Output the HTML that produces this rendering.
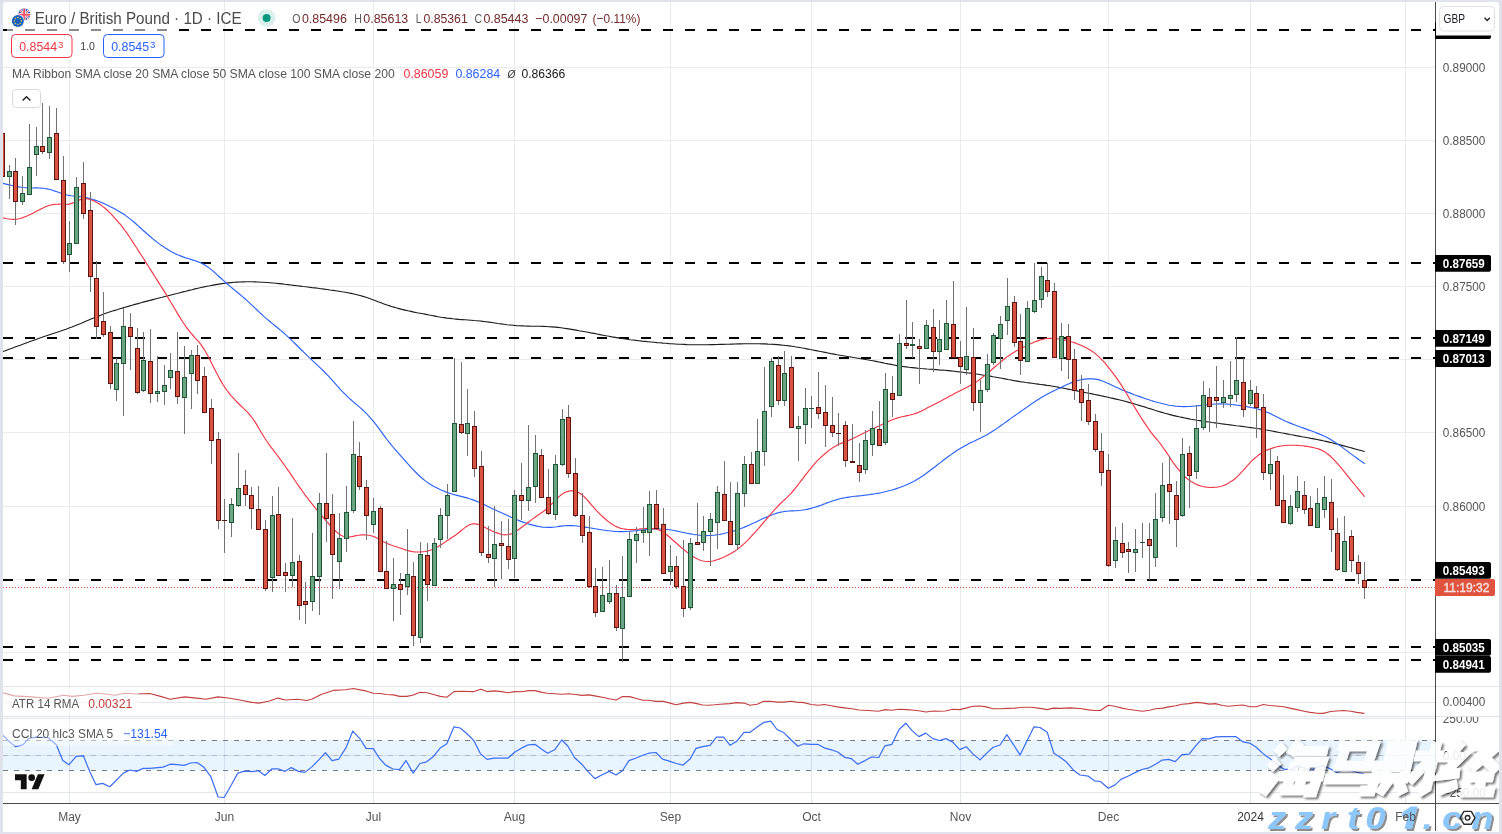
<!DOCTYPE html>
<html><head><meta charset="utf-8"><title>EURGBP</title>
<style>html,body{margin:0;padding:0;background:#e0e3eb;}body{width:1502px;height:834px;overflow:hidden;font-family:"Liberation Sans",sans-serif;}svg{display:block;position:absolute;left:0;top:0;will-change:transform;}text{font-family:"Liberation Sans",sans-serif;}</style>
</head><body>
<svg width="1502" height="834" viewBox="0 0 1502 834">
<defs>
<clipPath id="cpMain"><rect x="3" y="2" width="1432" height="684"/></clipPath>
<clipPath id="cpAll"><rect x="3" y="2" width="1432" height="801"/></clipPath>
<filter id="sh" x="-10%" y="-10%" width="130%" height="130%"><feGaussianBlur in="SourceAlpha" stdDeviation="0.9"/><feOffset dx="2.2" dy="2.2" result="o"/><feComponentTransfer><feFuncA type="linear" slope="0.62"/></feComponentTransfer><feMerge><feMergeNode/><feMergeNode in="SourceGraphic"/></feMerge></filter>
<filter id="sh2" x="-10%" y="-20%" width="130%" height="150%"><feGaussianBlur in="SourceAlpha" stdDeviation="0.7"/><feOffset dx="1.6" dy="1.8" result="o"/><feComponentTransfer><feFuncA type="linear" slope="0.45"/></feComponentTransfer><feMerge><feMergeNode/><feMergeNode in="SourceGraphic"/></feMerge></filter>
</defs>
<rect x="0" y="0" width="1502" height="834" fill="#e0e3eb"/>
<rect x="3" y="2" width="1496" height="830" rx="3" ry="3" fill="#ffffff"/>
<g shape-rendering="crispEdges">
<rect x="69" y="2" width="1" height="684" fill="#ebebec"/>
<rect x="69" y="687" width="1" height="116" fill="#e4e6ee"/>
<rect x="224" y="2" width="1" height="684" fill="#ebebec"/>
<rect x="224" y="687" width="1" height="116" fill="#e4e6ee"/>
<rect x="373" y="2" width="1" height="684" fill="#ebebec"/>
<rect x="373" y="687" width="1" height="116" fill="#e4e6ee"/>
<rect x="514" y="2" width="1" height="684" fill="#ebebec"/>
<rect x="514" y="687" width="1" height="116" fill="#e4e6ee"/>
<rect x="670" y="2" width="1" height="684" fill="#ebebec"/>
<rect x="670" y="687" width="1" height="116" fill="#e4e6ee"/>
<rect x="811" y="2" width="1" height="684" fill="#ebebec"/>
<rect x="811" y="687" width="1" height="116" fill="#e4e6ee"/>
<rect x="960" y="2" width="1" height="684" fill="#ebebec"/>
<rect x="960" y="687" width="1" height="116" fill="#e4e6ee"/>
<rect x="1108" y="2" width="1" height="684" fill="#ebebec"/>
<rect x="1108" y="687" width="1" height="116" fill="#e4e6ee"/>
<rect x="1250" y="2" width="1" height="684" fill="#ebebec"/>
<rect x="1250" y="687" width="1" height="116" fill="#e4e6ee"/>
<rect x="1405" y="2" width="1" height="684" fill="#ebebec"/>
<rect x="1405" y="687" width="1" height="116" fill="#e4e6ee"/>
<rect x="3" y="67" width="1432" height="1" fill="#ebebec"/>
<rect x="3" y="140" width="1432" height="1" fill="#ebebec"/>
<rect x="3" y="213" width="1432" height="1" fill="#ebebec"/>
<rect x="3" y="286" width="1432" height="1" fill="#ebebec"/>
<rect x="3" y="359" width="1432" height="1" fill="#ebebec"/>
<rect x="3" y="432" width="1432" height="1" fill="#ebebec"/>
<rect x="3" y="506" width="1432" height="1" fill="#ebebec"/>
<rect x="3" y="579" width="1432" height="1" fill="#ebebec"/>
<rect x="3" y="652" width="1432" height="1" fill="#ebebec"/>
<rect x="3" y="686" width="1496" height="1" fill="#e0e3eb"/>
<rect x="3" y="702" width="1432" height="1" fill="#e4e6ee"/>
<rect x="3" y="716" width="1496" height="1" fill="#e0e3eb"/>
<rect x="3" y="718" width="1432" height="1" fill="#e4e6ee"/>
<rect x="3" y="792" width="1432" height="1" fill="#e4e6ee"/>
</g>
<rect x="3" y="755" width="1432" height="1" fill="#e4e6ee" shape-rendering="crispEdges"/>
<rect x="3" y="740" width="1432" height="30.6" fill="#2196f3" fill-opacity="0.1"/>
<line x1="3" y1="740.5" x2="1435" y2="740.5" stroke="#787b86" stroke-width="1" stroke-dasharray="5 6" shape-rendering="crispEdges"/>
<line x1="3" y1="755.5" x2="1435" y2="755.5" stroke="#b4b8c4" stroke-width="1" stroke-dasharray="5 6" shape-rendering="crispEdges"/>
<line x1="3" y1="770.5" x2="1435" y2="770.5" stroke="#787b86" stroke-width="1" stroke-dasharray="5 6" shape-rendering="crispEdges"/>
<line x1="3" y1="30" x2="1435" y2="30" stroke="#000" stroke-width="2" stroke-dasharray="10 12" shape-rendering="crispEdges"/>
<line x1="3" y1="263" x2="1435" y2="263" stroke="#000" stroke-width="2" stroke-dasharray="10 12" shape-rendering="crispEdges"/>
<line x1="3" y1="338" x2="1435" y2="338" stroke="#000" stroke-width="2" stroke-dasharray="10 12" shape-rendering="crispEdges"/>
<line x1="3" y1="358" x2="1435" y2="358" stroke="#000" stroke-width="2" stroke-dasharray="10 12" shape-rendering="crispEdges"/>
<line x1="3" y1="580" x2="1435" y2="580" stroke="#000" stroke-width="2" stroke-dasharray="10 12" shape-rendering="crispEdges"/>
<line x1="3" y1="647" x2="1435" y2="647" stroke="#000" stroke-width="2" stroke-dasharray="10 12" shape-rendering="crispEdges"/>
<line x1="3" y1="660" x2="1435" y2="660" stroke="#000" stroke-width="2" stroke-dasharray="10 12" shape-rendering="crispEdges"/>
<polyline points="3.0,351.5 6.0,350.4 9.0,349.3 12.0,348.2 15.0,347.1 18.0,346.0 21.0,344.9 24.0,343.8 27.0,342.7 30.0,341.6 33.0,340.5 36.0,339.4 39.0,338.3 42.0,337.2 45.0,336.2 48.0,335.2 51.0,334.2 54.0,333.2 57.0,332.3 60.0,331.3 63.0,330.2 66.0,329.2 69.0,328.1 72.0,327.0 75.0,325.8 78.0,324.6 81.0,323.4 84.0,322.1 87.0,320.8 90.0,319.5 93.0,318.2 96.0,317.0 99.0,315.9 102.0,314.7 105.0,313.6 108.0,312.6 111.0,311.6 114.0,310.6 117.0,309.7 120.0,308.7 123.0,307.9 126.0,307.0 129.0,306.1 132.0,305.2 135.0,304.4 138.0,303.6 141.0,302.8 144.0,301.9 147.0,301.1 150.0,300.4 153.0,299.6 156.0,298.8 159.0,298.0 162.0,297.3 165.0,296.5 168.0,295.8 171.0,295.0 174.0,294.2 177.0,293.5 180.0,292.7 183.0,291.9 186.0,291.2 189.0,290.4 192.0,289.7 195.0,288.9 198.0,288.2 201.0,287.5 204.0,286.9 207.0,286.2 210.0,285.7 213.0,285.1 216.0,284.6 219.0,284.1 222.0,283.6 225.0,283.2 228.0,282.9 231.0,282.6 234.0,282.3 237.0,282.1 240.0,282.0 243.0,281.9 246.0,281.8 249.0,281.8 252.0,281.8 255.0,281.9 258.0,282.0 261.0,282.2 264.0,282.3 267.0,282.5 270.0,282.7 273.0,283.0 276.0,283.3 279.0,283.6 282.0,283.9 285.0,284.3 288.0,284.6 291.0,285.0 294.0,285.4 297.0,285.7 300.0,286.1 303.0,286.5 306.0,286.8 309.0,287.2 312.0,287.6 315.0,287.9 318.0,288.3 321.0,288.7 324.0,289.1 327.0,289.5 330.0,290.0 333.0,290.4 336.0,290.8 339.0,291.3 342.0,291.8 345.0,292.2 348.0,292.8 351.0,293.4 354.0,294.0 357.0,294.7 360.0,295.5 363.0,296.4 366.0,297.3 369.0,298.3 372.0,299.4 375.0,300.5 378.0,301.7 381.0,302.8 384.0,303.9 387.0,305.0 390.0,305.9 393.0,306.9 396.0,307.8 399.0,308.6 402.0,309.4 405.0,310.1 408.0,310.8 411.0,311.4 414.0,312.1 417.0,312.7 420.0,313.2 423.0,313.8 426.0,314.4 429.0,315.0 432.0,315.5 435.0,316.1 438.0,316.7 441.0,317.2 444.0,317.6 447.0,318.1 450.0,318.4 453.0,318.8 456.0,319.1 459.0,319.4 462.0,319.6 465.0,319.8 468.0,320.0 471.0,320.2 474.0,320.5 477.0,320.7 480.0,321.0 483.0,321.4 486.0,321.7 489.0,322.1 492.0,322.5 495.0,323.0 498.0,323.5 501.0,323.9 504.0,324.3 507.0,324.7 510.0,325.0 513.0,325.3 516.0,325.6 519.0,325.8 522.0,325.9 525.0,326.0 528.0,326.1 531.0,326.2 534.0,326.2 537.0,326.2 540.0,326.3 543.0,326.4 546.0,326.5 549.0,326.7 552.0,326.9 555.0,327.1 558.0,327.4 561.0,327.8 564.0,328.2 567.0,328.6 570.0,329.1 573.0,329.6 576.0,330.1 579.0,330.7 582.0,331.2 585.0,331.7 588.0,332.3 591.0,332.9 594.0,333.4 597.0,334.0 600.0,334.6 603.0,335.2 606.0,335.8 609.0,336.3 612.0,336.9 615.0,337.4 618.0,337.9 621.0,338.4 624.0,338.8 627.0,339.3 630.0,339.7 633.0,340.0 636.0,340.4 639.0,340.7 642.0,341.1 645.0,341.4 648.0,341.7 651.0,342.0 654.0,342.3 657.0,342.6 660.0,342.8 663.0,343.1 666.0,343.3 669.0,343.6 672.0,343.8 675.0,344.0 678.0,344.2 681.0,344.3 684.0,344.4 687.0,344.6 690.0,344.7 693.0,344.7 696.0,344.8 699.0,344.8 702.0,344.8 705.0,344.8 708.0,344.7 711.0,344.6 714.0,344.6 717.0,344.5 720.0,344.4 723.0,344.4 726.0,344.3 729.0,344.2 732.0,344.1 735.0,344.0 738.0,343.9 741.0,343.9 744.0,343.8 747.0,343.7 750.0,343.7 753.0,343.7 756.0,343.7 759.0,343.8 762.0,343.9 765.0,343.9 768.0,344.1 771.0,344.2 774.0,344.4 777.0,344.6 780.0,344.9 783.0,345.2 786.0,345.5 789.0,345.9 792.0,346.3 795.0,346.8 798.0,347.2 801.0,347.8 804.0,348.3 807.0,348.9 810.0,349.5 813.0,350.0 816.0,350.6 819.0,351.2 822.0,351.8 825.0,352.4 828.0,353.0 831.0,353.6 834.0,354.1 837.0,354.7 840.0,355.2 843.0,355.7 846.0,356.2 849.0,356.7 852.0,357.2 855.0,357.7 858.0,358.2 861.0,358.7 864.0,359.2 867.0,359.7 870.0,360.3 873.0,360.8 876.0,361.4 879.0,362.0 882.0,362.6 885.0,363.3 888.0,363.9 891.0,364.4 894.0,365.0 897.0,365.6 900.0,366.1 903.0,366.5 906.0,366.9 909.0,367.3 912.0,367.6 915.0,367.9 918.0,368.2 921.0,368.5 924.0,368.7 927.0,369.0 930.0,369.2 933.0,369.4 936.0,369.6 939.0,369.9 942.0,370.1 945.0,370.3 948.0,370.6 951.0,370.9 954.0,371.2 957.0,371.6 960.0,371.9 963.0,372.3 966.0,372.6 969.0,373.0 972.0,373.4 975.0,373.8 978.0,374.2 981.0,374.7 984.0,375.2 987.0,375.6 990.0,376.1 993.0,376.7 996.0,377.2 999.0,377.7 1002.0,378.3 1005.0,378.9 1008.0,379.5 1011.0,380.0 1014.0,380.6 1017.0,381.1 1020.0,381.6 1023.0,382.0 1026.0,382.5 1029.0,382.9 1032.0,383.3 1035.0,383.7 1038.0,384.1 1041.0,384.5 1044.0,384.9 1047.0,385.4 1050.0,385.8 1053.0,386.3 1056.0,386.8 1059.0,387.4 1062.0,387.9 1065.0,388.5 1068.0,389.1 1071.0,389.7 1074.0,390.3 1077.0,390.9 1080.0,391.5 1083.0,392.1 1086.0,392.7 1089.0,393.3 1092.0,393.9 1095.0,394.5 1098.0,395.1 1101.0,395.7 1104.0,396.4 1107.0,397.0 1110.0,397.7 1113.0,398.4 1116.0,399.1 1119.0,399.8 1122.0,400.5 1125.0,401.3 1128.0,402.1 1131.0,403.0 1134.0,403.8 1137.0,404.7 1140.0,405.6 1143.0,406.5 1146.0,407.4 1149.0,408.4 1152.0,409.3 1155.0,410.3 1158.0,411.2 1161.0,412.1 1164.0,413.0 1167.0,413.8 1170.0,414.6 1173.0,415.4 1176.0,416.1 1179.0,416.8 1182.0,417.4 1185.0,418.0 1188.0,418.6 1191.0,419.2 1194.0,419.7 1197.0,420.2 1200.0,420.6 1203.0,421.1 1206.0,421.6 1209.0,422.0 1212.0,422.5 1215.0,422.9 1218.0,423.3 1221.0,423.7 1224.0,424.1 1227.0,424.5 1230.0,424.9 1233.0,425.3 1236.0,425.7 1239.0,426.0 1242.0,426.4 1245.0,426.8 1248.0,427.2 1251.0,427.6 1254.0,428.0 1257.0,428.5 1260.0,428.9 1263.0,429.4 1266.0,430.0 1269.0,430.5 1272.0,431.0 1275.0,431.6 1278.0,432.2 1281.0,432.8 1284.0,433.3 1287.0,433.9 1290.0,434.5 1293.0,435.0 1296.0,435.6 1299.0,436.1 1302.0,436.7 1305.0,437.2 1308.0,437.8 1311.0,438.4 1314.0,438.9 1317.0,439.5 1320.0,440.1 1323.0,440.8 1326.0,441.4 1329.0,442.1 1332.0,442.8 1335.0,443.6 1338.0,444.3 1341.0,445.1 1344.0,445.9 1347.0,446.7 1350.0,447.5 1353.0,448.4 1356.0,449.2 1359.0,450.0 1362.0,450.8 1364.3,451.5" fill="none" stroke="#1c1c1c" stroke-width="1.1" stroke-linejoin="round" stroke-linecap="round" clip-path="url(#cpAll)" />
<polyline points="3.0,183.4 5.0,183.9 7.0,184.4 9.0,184.9 11.0,185.3 13.0,185.8 15.0,186.2 17.0,186.5 19.0,186.9 21.0,187.2 23.0,187.5 25.0,187.7 27.0,187.8 29.0,187.9 31.0,188.0 33.0,188.0 35.0,187.9 37.0,187.9 39.0,188.0 41.0,188.1 43.0,188.3 45.0,188.5 47.0,188.9 49.0,189.3 51.0,189.8 53.0,190.5 55.0,191.1 57.0,191.8 59.0,192.5 61.0,193.2 63.0,193.8 65.0,194.4 67.0,195.0 69.0,195.4 71.0,195.8 73.0,196.0 75.0,196.3 77.0,196.5 79.0,196.6 81.0,196.8 83.0,197.1 85.0,197.4 87.0,197.9 89.0,198.4 91.0,198.9 93.0,199.5 95.0,200.1 97.0,200.8 99.0,201.5 101.0,202.3 103.0,203.1 105.0,204.0 107.0,204.9 109.0,205.9 111.0,206.9 113.0,208.0 115.0,209.1 117.0,210.3 119.0,211.4 121.0,212.6 123.0,213.8 125.0,215.1 127.0,216.6 129.0,218.1 131.0,219.6 133.0,221.3 135.0,223.0 137.0,224.8 139.0,226.7 141.0,228.5 143.0,230.3 145.0,232.0 147.0,233.8 149.0,235.5 151.0,237.2 153.0,238.9 155.0,240.5 157.0,242.1 159.0,243.6 161.0,245.1 163.0,246.4 165.0,247.8 167.0,249.0 169.0,250.2 171.0,251.4 173.0,252.4 175.0,253.4 177.0,254.4 179.0,255.3 181.0,256.1 183.0,256.9 185.0,257.6 187.0,258.2 189.0,258.8 191.0,259.4 193.0,260.1 195.0,260.7 197.0,261.4 199.0,262.2 201.0,263.1 203.0,264.1 205.0,265.3 207.0,266.5 209.0,267.9 211.0,269.4 213.0,271.1 215.0,272.8 217.0,274.7 219.0,276.5 221.0,278.3 223.0,280.1 225.0,281.9 227.0,283.7 229.0,285.4 231.0,287.1 233.0,288.8 235.0,290.4 237.0,292.0 239.0,293.7 241.0,295.4 243.0,297.1 245.0,298.8 247.0,300.6 249.0,302.4 251.0,304.3 253.0,306.2 255.0,308.1 257.0,310.0 259.0,311.9 261.0,313.7 263.0,315.6 265.0,317.4 267.0,319.1 269.0,320.8 271.0,322.5 273.0,324.1 275.0,325.7 277.0,327.3 279.0,329.0 281.0,330.6 283.0,332.3 285.0,334.1 287.0,335.9 289.0,337.8 291.0,339.6 293.0,341.6 295.0,343.5 297.0,345.5 299.0,347.5 301.0,349.5 303.0,351.5 305.0,353.4 307.0,355.4 309.0,357.3 311.0,359.2 313.0,361.1 315.0,362.9 317.0,364.8 319.0,366.7 321.0,368.6 323.0,370.5 325.0,372.5 327.0,374.6 329.0,376.7 331.0,378.9 333.0,381.1 335.0,383.4 337.0,385.7 339.0,387.9 341.0,390.1 343.0,392.2 345.0,394.2 347.0,396.2 349.0,398.1 351.0,399.8 353.0,401.6 355.0,403.2 357.0,404.9 359.0,406.6 361.0,408.4 363.0,410.2 365.0,412.1 367.0,414.2 369.0,416.3 371.0,418.6 373.0,420.9 375.0,423.4 377.0,425.9 379.0,428.6 381.0,431.3 383.0,434.1 385.0,436.8 387.0,439.5 389.0,442.1 391.0,444.6 393.0,447.0 395.0,449.3 397.0,451.6 399.0,453.8 401.0,456.1 403.0,458.3 405.0,460.6 407.0,462.9 409.0,465.1 411.0,467.3 413.0,469.4 415.0,471.5 417.0,473.5 419.0,475.5 421.0,477.3 423.0,479.0 425.0,480.6 427.0,482.1 429.0,483.5 431.0,484.8 433.0,486.0 435.0,487.1 437.0,488.1 439.0,489.1 441.0,490.0 443.0,490.8 445.0,491.6 447.0,492.4 449.0,493.1 451.0,493.7 453.0,494.3 455.0,494.9 457.0,495.4 459.0,495.9 461.0,496.4 463.0,496.9 465.0,497.4 467.0,497.9 469.0,498.5 471.0,499.2 473.0,499.9 475.0,500.6 477.0,501.4 479.0,502.3 481.0,503.2 483.0,504.1 485.0,505.1 487.0,506.1 489.0,507.0 491.0,508.0 493.0,508.9 495.0,509.8 497.0,510.8 499.0,511.7 501.0,512.6 503.0,513.5 505.0,514.4 507.0,515.3 509.0,516.3 511.0,517.2 513.0,518.1 515.0,519.0 517.0,519.8 519.0,520.6 521.0,521.4 523.0,522.1 525.0,522.8 527.0,523.5 529.0,524.1 531.0,524.6 533.0,525.1 535.0,525.6 537.0,526.1 539.0,526.5 541.0,526.9 543.0,527.2 545.0,527.3 547.0,527.4 549.0,527.4 551.0,527.4 553.0,527.2 555.0,527.0 557.0,526.8 559.0,526.4 561.0,526.1 563.0,525.9 565.0,525.7 567.0,525.6 569.0,525.6 571.0,525.6 573.0,525.6 575.0,525.8 577.0,526.0 579.0,526.2 581.0,526.5 583.0,526.8 585.0,527.1 587.0,527.4 589.0,527.7 591.0,528.0 593.0,528.4 595.0,528.7 597.0,529.0 599.0,529.4 601.0,529.7 603.0,530.0 605.0,530.3 607.0,530.6 609.0,530.8 611.0,531.0 613.0,531.2 615.0,531.4 617.0,531.5 619.0,531.6 621.0,531.6 623.0,531.6 625.0,531.5 627.0,531.5 629.0,531.3 631.0,531.2 633.0,531.0 635.0,530.8 637.0,530.6 639.0,530.3 641.0,530.1 643.0,529.9 645.0,529.7 647.0,529.5 649.0,529.3 651.0,529.2 653.0,529.1 655.0,529.0 657.0,529.0 659.0,529.0 661.0,529.0 663.0,529.1 665.0,529.3 667.0,529.5 669.0,529.7 671.0,530.0 673.0,530.3 675.0,530.7 677.0,531.1 679.0,531.5 681.0,532.0 683.0,532.4 685.0,532.8 687.0,533.2 689.0,533.6 691.0,533.9 693.0,534.3 695.0,534.6 697.0,534.8 699.0,535.1 701.0,535.3 703.0,535.5 705.0,535.6 707.0,535.6 709.0,535.5 711.0,535.4 713.0,535.3 715.0,535.1 717.0,534.8 719.0,534.5 721.0,534.1 723.0,533.7 725.0,533.2 727.0,532.8 729.0,532.3 731.0,531.8 733.0,531.2 735.0,530.6 737.0,530.0 739.0,529.3 741.0,528.5 743.0,527.7 745.0,526.9 747.0,526.1 749.0,525.2 751.0,524.2 753.0,523.3 755.0,522.4 757.0,521.4 759.0,520.5 761.0,519.6 763.0,518.6 765.0,517.7 767.0,516.9 769.0,516.0 771.0,515.2 773.0,514.5 775.0,513.7 777.0,513.1 779.0,512.5 781.0,512.1 783.0,511.7 785.0,511.4 787.0,511.2 789.0,511.0 791.0,510.9 793.0,510.9 795.0,510.8 797.0,510.7 799.0,510.5 801.0,510.3 803.0,510.0 805.0,509.7 807.0,509.4 809.0,508.9 811.0,508.4 813.0,507.8 815.0,507.2 817.0,506.6 819.0,505.9 821.0,505.2 823.0,504.4 825.0,503.7 827.0,502.9 829.0,502.2 831.0,501.5 833.0,500.8 835.0,500.2 837.0,499.6 839.0,499.0 841.0,498.5 843.0,498.1 845.0,497.7 847.0,497.4 849.0,497.1 851.0,496.8 853.0,496.5 855.0,496.3 857.0,496.1 859.0,495.9 861.0,495.7 863.0,495.4 865.0,495.2 867.0,494.9 869.0,494.7 871.0,494.4 873.0,494.1 875.0,493.8 877.0,493.4 879.0,493.1 881.0,492.7 883.0,492.2 885.0,491.8 887.0,491.3 889.0,490.8 891.0,490.3 893.0,489.7 895.0,489.1 897.0,488.4 899.0,487.7 901.0,487.0 903.0,486.3 905.0,485.5 907.0,484.6 909.0,483.7 911.0,482.8 913.0,481.8 915.0,480.7 917.0,479.5 919.0,478.3 921.0,477.0 923.0,475.7 925.0,474.3 927.0,472.8 929.0,471.3 931.0,469.8 933.0,468.3 935.0,466.8 937.0,465.2 939.0,463.6 941.0,462.1 943.0,460.5 945.0,459.0 947.0,457.5 949.0,456.0 951.0,454.6 953.0,453.2 955.0,451.8 957.0,450.5 959.0,449.3 961.0,448.0 963.0,446.9 965.0,445.8 967.0,444.7 969.0,443.6 971.0,442.6 973.0,441.7 975.0,440.7 977.0,439.7 979.0,438.7 981.0,437.8 983.0,436.8 985.0,435.8 987.0,434.7 989.0,433.5 991.0,432.3 993.0,431.1 995.0,429.8 997.0,428.4 999.0,427.0 1001.0,425.5 1003.0,424.1 1005.0,422.6 1007.0,421.2 1009.0,419.8 1011.0,418.4 1013.0,416.9 1015.0,415.5 1017.0,414.1 1019.0,412.7 1021.0,411.3 1023.0,409.9 1025.0,408.5 1027.0,407.1 1029.0,405.7 1031.0,404.3 1033.0,402.9 1035.0,401.6 1037.0,400.3 1039.0,399.0 1041.0,397.7 1043.0,396.5 1045.0,395.4 1047.0,394.3 1049.0,393.2 1051.0,392.2 1053.0,391.2 1055.0,390.3 1057.0,389.3 1059.0,388.4 1061.0,387.4 1063.0,386.5 1065.0,385.5 1067.0,384.6 1069.0,383.7 1071.0,382.9 1073.0,382.1 1075.0,381.4 1077.0,380.8 1079.0,380.2 1081.0,379.8 1083.0,379.4 1085.0,379.1 1087.0,378.9 1089.0,378.9 1091.0,378.9 1093.0,378.9 1095.0,379.1 1097.0,379.4 1099.0,379.9 1101.0,380.5 1103.0,381.3 1105.0,382.0 1107.0,382.9 1109.0,383.8 1111.0,384.8 1113.0,385.8 1115.0,386.7 1117.0,387.6 1119.0,388.5 1121.0,389.4 1123.0,390.2 1125.0,391.0 1127.0,391.9 1129.0,392.6 1131.0,393.4 1133.0,394.2 1135.0,395.0 1137.0,395.7 1139.0,396.4 1141.0,397.1 1143.0,397.8 1145.0,398.5 1147.0,399.2 1149.0,399.8 1151.0,400.5 1153.0,401.1 1155.0,401.7 1157.0,402.2 1159.0,402.8 1161.0,403.3 1163.0,403.8 1165.0,404.3 1167.0,404.8 1169.0,405.2 1171.0,405.5 1173.0,405.8 1175.0,406.1 1177.0,406.3 1179.0,406.4 1181.0,406.5 1183.0,406.6 1185.0,406.6 1187.0,406.5 1189.0,406.5 1191.0,406.4 1193.0,406.2 1195.0,406.0 1197.0,405.8 1199.0,405.6 1201.0,405.4 1203.0,405.1 1205.0,404.9 1207.0,404.7 1209.0,404.5 1211.0,404.3 1213.0,404.2 1215.0,404.0 1217.0,404.0 1219.0,403.9 1221.0,403.9 1223.0,404.0 1225.0,404.0 1227.0,404.1 1229.0,404.3 1231.0,404.5 1233.0,404.7 1235.0,404.9 1237.0,405.2 1239.0,405.4 1241.0,405.7 1243.0,406.0 1245.0,406.3 1247.0,406.7 1249.0,407.1 1251.0,407.5 1253.0,407.9 1255.0,408.3 1257.0,408.8 1259.0,409.4 1261.0,410.0 1263.0,410.7 1265.0,411.4 1267.0,412.2 1269.0,413.1 1271.0,414.0 1273.0,415.0 1275.0,416.0 1277.0,417.0 1279.0,418.0 1281.0,419.0 1283.0,419.9 1285.0,420.9 1287.0,421.8 1289.0,422.6 1291.0,423.4 1293.0,424.2 1295.0,425.0 1297.0,425.8 1299.0,426.5 1301.0,427.2 1303.0,427.9 1305.0,428.6 1307.0,429.4 1309.0,430.1 1311.0,430.8 1313.0,431.5 1315.0,432.3 1317.0,433.1 1319.0,433.9 1321.0,434.7 1323.0,435.6 1325.0,436.5 1327.0,437.5 1329.0,438.6 1331.0,439.7 1333.0,441.0 1335.0,442.2 1337.0,443.6 1339.0,445.0 1341.0,446.4 1343.0,447.9 1345.0,449.4 1347.0,450.9 1349.0,452.4 1351.0,453.9 1353.0,455.4 1355.0,456.8 1357.0,458.2 1359.0,459.7 1361.0,461.1 1363.0,462.4 1364.3,463.5" fill="none" stroke="#2962ff" stroke-width="1.15" stroke-linejoin="round" stroke-linecap="round" clip-path="url(#cpAll)" />
<polyline points="3.0,217.9 5.0,218.3 7.0,218.7 9.0,219.0 11.0,219.3 13.0,219.4 15.0,219.4 17.0,219.2 19.0,218.8 21.0,218.3 23.0,217.6 25.0,216.8 27.0,216.0 29.0,215.1 31.0,214.2 33.0,213.2 35.0,212.1 37.0,211.0 39.0,209.9 41.0,208.9 43.0,207.9 45.0,207.0 47.0,206.2 49.0,205.5 51.0,205.0 53.0,204.6 55.0,204.3 57.0,204.2 59.0,204.1 61.0,204.2 63.0,204.4 65.0,204.5 67.0,204.4 69.0,204.1 71.0,203.6 73.0,202.9 75.0,201.9 77.0,201.0 79.0,200.1 81.0,199.4 83.0,198.9 85.0,198.7 87.0,198.7 89.0,199.2 91.0,199.8 93.0,200.5 95.0,201.5 97.0,202.6 99.0,203.8 101.0,205.1 103.0,206.6 105.0,208.2 107.0,210.0 109.0,211.9 111.0,213.9 113.0,216.1 115.0,218.3 117.0,220.5 119.0,222.8 121.0,225.2 123.0,227.8 125.0,230.5 127.0,233.3 129.0,236.2 131.0,239.3 133.0,242.4 135.0,245.5 137.0,248.5 139.0,251.6 141.0,254.7 143.0,257.8 145.0,260.9 147.0,264.1 149.0,267.2 151.0,270.4 153.0,273.6 155.0,276.7 157.0,279.9 159.0,283.1 161.0,286.2 163.0,289.4 165.0,292.6 167.0,295.9 169.0,299.2 171.0,302.5 173.0,305.8 175.0,309.2 177.0,312.6 179.0,315.9 181.0,319.1 183.0,322.2 185.0,325.2 187.0,328.1 189.0,330.7 191.0,333.2 193.0,335.5 195.0,337.8 197.0,339.9 199.0,342.2 201.0,344.7 203.0,347.6 205.0,350.8 207.0,354.2 209.0,357.9 211.0,361.9 213.0,365.9 215.0,369.9 217.0,373.7 219.0,377.6 221.0,381.1 223.0,384.5 225.0,387.6 227.0,390.5 229.0,393.1 231.0,395.6 233.0,397.7 235.0,399.9 237.0,402.0 239.0,404.0 241.0,406.0 243.0,407.9 245.0,409.8 247.0,411.7 249.0,413.9 251.0,416.3 253.0,419.0 255.0,421.9 257.0,425.1 259.0,428.5 261.0,432.0 263.0,435.3 265.0,438.5 267.0,441.5 269.0,444.3 271.0,447.1 273.0,449.7 275.0,452.3 277.0,455.0 279.0,457.7 281.0,460.4 283.0,463.2 285.0,466.0 287.0,468.9 289.0,471.7 291.0,474.6 293.0,477.6 295.0,480.5 297.0,483.5 299.0,486.4 301.0,489.2 303.0,492.0 305.0,494.8 307.0,497.4 309.0,500.1 311.0,502.6 313.0,505.2 315.0,507.7 317.0,510.1 319.0,512.5 321.0,514.9 323.0,517.2 325.0,519.5 327.0,521.8 329.0,524.0 331.0,526.3 333.0,528.5 335.0,530.5 337.0,532.4 339.0,534.0 341.0,535.3 343.0,536.3 345.0,536.8 347.0,537.0 349.0,537.0 351.0,536.7 353.0,536.4 355.0,535.9 357.0,535.5 359.0,535.2 361.0,534.9 363.0,534.8 365.0,534.9 367.0,535.0 369.0,535.2 371.0,535.7 373.0,536.3 375.0,537.1 377.0,538.1 379.0,539.1 381.0,540.3 383.0,541.4 385.0,542.4 387.0,543.4 389.0,544.2 391.0,545.0 393.0,545.7 395.0,546.3 397.0,547.0 399.0,547.7 401.0,548.3 403.0,549.0 405.0,549.7 407.0,550.4 409.0,550.9 411.0,551.4 413.0,551.7 415.0,551.9 417.0,552.0 419.0,552.0 421.0,551.9 423.0,551.7 425.0,551.5 427.0,551.1 429.0,550.6 431.0,550.0 433.0,549.3 435.0,548.4 437.0,547.3 439.0,546.1 441.0,544.8 443.0,543.5 445.0,542.1 447.0,540.7 449.0,539.4 451.0,538.1 453.0,536.8 455.0,535.5 457.0,534.0 459.0,532.5 461.0,530.8 463.0,529.1 465.0,527.6 467.0,526.2 469.0,525.0 471.0,524.3 473.0,523.8 475.0,523.8 477.0,524.1 479.0,524.6 481.0,525.4 483.0,526.4 485.0,527.4 487.0,528.5 489.0,529.5 491.0,530.5 493.0,531.4 495.0,532.2 497.0,532.9 499.0,533.6 501.0,534.2 503.0,534.7 505.0,534.9 507.0,534.8 509.0,534.5 511.0,533.9 513.0,533.0 515.0,531.9 517.0,530.6 519.0,529.2 521.0,527.8 523.0,526.3 525.0,524.8 527.0,523.2 529.0,521.7 531.0,520.1 533.0,518.6 535.0,517.2 537.0,515.8 539.0,514.4 541.0,513.1 543.0,511.7 545.0,510.2 547.0,508.5 549.0,506.6 551.0,504.6 553.0,502.6 555.0,500.5 557.0,498.5 559.0,496.6 561.0,495.0 563.0,493.6 565.0,492.5 567.0,491.6 569.0,491.1 571.0,490.8 573.0,490.9 575.0,491.1 577.0,491.7 579.0,492.7 581.0,494.0 583.0,495.6 585.0,497.5 587.0,499.7 589.0,502.0 591.0,504.4 593.0,506.7 595.0,508.9 597.0,511.1 599.0,513.2 601.0,515.1 603.0,517.0 605.0,518.8 607.0,520.5 609.0,522.1 611.0,523.5 613.0,524.8 615.0,525.9 617.0,526.9 619.0,527.7 621.0,528.4 623.0,528.8 625.0,529.1 627.0,529.4 629.0,529.5 631.0,529.6 633.0,529.5 635.0,529.4 637.0,529.2 639.0,529.1 641.0,528.9 643.0,528.7 645.0,528.5 647.0,528.4 649.0,528.3 651.0,528.4 653.0,528.6 655.0,528.9 657.0,529.3 659.0,530.0 661.0,531.0 663.0,532.2 665.0,533.5 667.0,535.0 669.0,536.7 671.0,538.5 673.0,540.3 675.0,542.0 677.0,543.8 679.0,545.5 681.0,547.2 683.0,548.9 685.0,550.5 687.0,552.1 689.0,553.7 691.0,555.2 693.0,556.5 695.0,557.7 697.0,558.8 699.0,559.7 701.0,560.5 703.0,561.0 705.0,561.3 707.0,561.5 709.0,561.5 711.0,561.3 713.0,561.0 715.0,560.4 717.0,559.8 719.0,559.1 721.0,558.3 723.0,557.5 725.0,556.6 727.0,555.6 729.0,554.5 731.0,553.4 733.0,552.2 735.0,551.0 737.0,549.6 739.0,548.0 741.0,546.4 743.0,544.7 745.0,542.8 747.0,540.9 749.0,538.8 751.0,536.7 753.0,534.5 755.0,532.3 757.0,530.1 759.0,527.8 761.0,525.5 763.0,523.1 765.0,520.8 767.0,518.5 769.0,516.1 771.0,513.8 773.0,511.4 775.0,509.2 777.0,507.1 779.0,505.0 781.0,503.0 783.0,501.1 785.0,499.3 787.0,497.4 789.0,495.4 791.0,493.3 793.0,491.0 795.0,488.6 797.0,486.1 799.0,483.5 801.0,480.9 803.0,478.3 805.0,475.7 807.0,473.2 809.0,470.6 811.0,468.1 813.0,465.7 815.0,463.4 817.0,461.2 819.0,459.2 821.0,457.2 823.0,455.4 825.0,453.7 827.0,452.0 829.0,450.4 831.0,449.0 833.0,447.6 835.0,446.4 837.0,445.3 839.0,444.2 841.0,443.4 843.0,442.6 845.0,441.8 847.0,441.0 849.0,440.2 851.0,439.4 853.0,438.5 855.0,437.5 857.0,436.6 859.0,435.5 861.0,434.5 863.0,433.5 865.0,432.5 867.0,431.5 869.0,430.6 871.0,429.7 873.0,428.8 875.0,427.8 877.0,426.8 879.0,425.9 881.0,424.9 883.0,423.9 885.0,423.0 887.0,422.1 889.0,421.2 891.0,420.3 893.0,419.5 895.0,418.8 897.0,418.1 899.0,417.5 901.0,417.0 903.0,416.5 905.0,416.1 907.0,415.6 909.0,415.2 911.0,414.7 913.0,414.2 915.0,413.6 917.0,412.9 919.0,412.1 921.0,411.2 923.0,410.2 925.0,409.2 927.0,408.1 929.0,407.0 931.0,406.0 933.0,404.9 935.0,403.9 937.0,402.9 939.0,401.9 941.0,400.9 943.0,399.8 945.0,398.8 947.0,397.7 949.0,396.6 951.0,395.5 953.0,394.4 955.0,393.3 957.0,392.2 959.0,391.2 961.0,390.2 963.0,389.2 965.0,388.2 967.0,387.3 969.0,386.2 971.0,385.1 973.0,384.0 975.0,382.7 977.0,381.4 979.0,380.0 981.0,378.5 983.0,376.9 985.0,375.3 987.0,373.7 989.0,372.0 991.0,370.3 993.0,368.5 995.0,366.8 997.0,365.1 999.0,363.4 1001.0,361.7 1003.0,360.0 1005.0,358.5 1007.0,356.9 1009.0,355.5 1011.0,354.1 1013.0,352.9 1015.0,351.7 1017.0,350.6 1019.0,349.5 1021.0,348.5 1023.0,347.4 1025.0,346.5 1027.0,345.5 1029.0,344.5 1031.0,343.6 1033.0,342.7 1035.0,341.8 1037.0,341.1 1039.0,340.4 1041.0,339.7 1043.0,339.2 1045.0,338.7 1047.0,338.5 1049.0,338.3 1051.0,338.3 1053.0,338.3 1055.0,338.5 1057.0,338.7 1059.0,339.0 1061.0,339.3 1063.0,339.7 1065.0,340.1 1067.0,340.6 1069.0,341.1 1071.0,341.7 1073.0,342.3 1075.0,342.9 1077.0,343.7 1079.0,344.4 1081.0,345.3 1083.0,346.2 1085.0,347.2 1087.0,348.3 1089.0,349.4 1091.0,350.6 1093.0,351.9 1095.0,353.4 1097.0,355.1 1099.0,356.9 1101.0,358.8 1103.0,360.9 1105.0,363.2 1107.0,365.6 1109.0,368.1 1111.0,370.6 1113.0,373.2 1115.0,375.9 1117.0,378.7 1119.0,381.6 1121.0,384.6 1123.0,387.7 1125.0,391.0 1127.0,394.3 1129.0,397.7 1131.0,401.2 1133.0,404.5 1135.0,407.8 1137.0,411.1 1139.0,414.3 1141.0,417.5 1143.0,420.6 1145.0,423.6 1147.0,426.5 1149.0,429.4 1151.0,432.3 1153.0,434.9 1155.0,437.3 1157.0,439.5 1159.0,442.0 1161.0,444.6 1163.0,447.5 1165.0,450.3 1167.0,453.2 1169.0,456.2 1171.0,459.4 1173.0,462.4 1175.0,465.2 1177.0,467.7 1179.0,470.1 1181.0,472.4 1183.0,474.7 1185.0,476.7 1187.0,478.5 1189.0,480.1 1191.0,481.4 1193.0,482.6 1195.0,483.7 1197.0,484.6 1199.0,485.4 1201.0,486.0 1203.0,486.5 1205.0,486.9 1207.0,487.2 1209.0,487.4 1211.0,487.5 1213.0,487.4 1215.0,487.3 1217.0,487.1 1219.0,486.8 1221.0,486.3 1223.0,485.7 1225.0,484.9 1227.0,483.9 1229.0,482.8 1231.0,481.6 1233.0,480.3 1235.0,478.7 1237.0,476.9 1239.0,474.9 1241.0,472.7 1243.0,470.6 1245.0,468.4 1247.0,466.1 1249.0,463.8 1251.0,461.7 1253.0,459.8 1255.0,458.0 1257.0,456.4 1259.0,454.8 1261.0,453.3 1263.0,452.1 1265.0,451.0 1267.0,450.1 1269.0,449.3 1271.0,448.6 1273.0,447.9 1275.0,447.3 1277.0,446.8 1279.0,446.4 1281.0,446.0 1283.0,445.7 1285.0,445.5 1287.0,445.3 1289.0,445.2 1291.0,445.2 1293.0,445.2 1295.0,445.3 1297.0,445.4 1299.0,445.5 1301.0,445.7 1303.0,445.8 1305.0,446.1 1307.0,446.4 1309.0,446.7 1311.0,447.1 1313.0,447.5 1315.0,448.0 1317.0,448.5 1319.0,449.1 1321.0,449.9 1323.0,450.9 1325.0,452.1 1327.0,453.5 1329.0,455.0 1331.0,456.8 1333.0,458.8 1335.0,460.9 1337.0,463.1 1339.0,465.3 1341.0,467.7 1343.0,470.1 1345.0,472.6 1347.0,475.1 1349.0,477.6 1351.0,480.1 1353.0,482.6 1355.0,485.0 1357.0,487.5 1359.0,489.8 1361.0,492.3 1363.0,494.6 1364.3,496.5" fill="none" stroke="#f23645" stroke-width="1.15" stroke-linejoin="round" stroke-linecap="round" clip-path="url(#cpAll)" />
<line x1="3" y1="587.5" x2="1435" y2="587.5" stroke="#e0533f" stroke-width="1" stroke-dasharray="1 2"/>
<g clip-path="url(#cpMain)" shape-rendering="crispEdges">
<rect x="2" y="125" width="1" height="57" fill="#727275"/>
<rect x="0" y="133" width="5" height="44" fill="#5c1410"/>
<rect x="1" y="134" width="3" height="42" fill="#d95342"/>
<rect x="9" y="165" width="1" height="34" fill="#727275"/>
<rect x="7" y="171" width="5" height="6" fill="#1f5636"/>
<rect x="8" y="172" width="3" height="4" fill="#6aa684"/>
<rect x="15" y="158" width="1" height="67" fill="#727275"/>
<rect x="13" y="171" width="5" height="31" fill="#5c1410"/>
<rect x="14" y="172" width="3" height="29" fill="#d95342"/>
<rect x="22" y="176" width="1" height="29" fill="#727275"/>
<rect x="20" y="193" width="5" height="9" fill="#1f5636"/>
<rect x="21" y="194" width="3" height="7" fill="#6aa684"/>
<rect x="29" y="124" width="1" height="71" fill="#727275"/>
<rect x="27" y="167" width="5" height="28" fill="#1f5636"/>
<rect x="28" y="168" width="3" height="26" fill="#6aa684"/>
<rect x="36" y="127" width="1" height="49" fill="#727275"/>
<rect x="34" y="146" width="5" height="9" fill="#1f5636"/>
<rect x="35" y="147" width="3" height="7" fill="#6aa684"/>
<rect x="42" y="103" width="1" height="51" fill="#727275"/>
<rect x="40" y="146" width="5" height="6" fill="#5c1410"/>
<rect x="41" y="147" width="3" height="4" fill="#d95342"/>
<rect x="49" y="106" width="1" height="53" fill="#727275"/>
<rect x="47" y="137" width="5" height="16" fill="#1f5636"/>
<rect x="48" y="138" width="3" height="14" fill="#6aa684"/>
<rect x="56" y="108" width="1" height="72" fill="#727275"/>
<rect x="54" y="133" width="5" height="47" fill="#5c1410"/>
<rect x="55" y="134" width="3" height="45" fill="#d95342"/>
<rect x="63" y="156" width="1" height="108" fill="#727275"/>
<rect x="61" y="180" width="5" height="82" fill="#5c1410"/>
<rect x="62" y="181" width="3" height="80" fill="#d95342"/>
<rect x="69" y="221" width="1" height="51" fill="#727275"/>
<rect x="67" y="243" width="5" height="12" fill="#1f5636"/>
<rect x="68" y="244" width="3" height="10" fill="#6aa684"/>
<rect x="76" y="177" width="1" height="67" fill="#727275"/>
<rect x="74" y="187" width="5" height="57" fill="#1f5636"/>
<rect x="75" y="188" width="3" height="55" fill="#6aa684"/>
<rect x="83" y="162" width="1" height="57" fill="#727275"/>
<rect x="81" y="183" width="5" height="31" fill="#5c1410"/>
<rect x="82" y="184" width="3" height="29" fill="#d95342"/>
<rect x="90" y="192" width="1" height="100" fill="#727275"/>
<rect x="88" y="210" width="5" height="67" fill="#5c1410"/>
<rect x="89" y="211" width="3" height="65" fill="#d95342"/>
<rect x="96" y="261" width="1" height="78" fill="#727275"/>
<rect x="94" y="278" width="5" height="49" fill="#5c1410"/>
<rect x="95" y="279" width="3" height="47" fill="#d95342"/>
<rect x="103" y="292" width="1" height="45" fill="#727275"/>
<rect x="101" y="321" width="5" height="14" fill="#5c1410"/>
<rect x="102" y="322" width="3" height="12" fill="#d95342"/>
<rect x="110" y="326" width="1" height="63" fill="#727275"/>
<rect x="108" y="332" width="5" height="52" fill="#5c1410"/>
<rect x="109" y="333" width="3" height="50" fill="#d95342"/>
<rect x="116" y="358" width="1" height="43" fill="#727275"/>
<rect x="114" y="363" width="5" height="27" fill="#1f5636"/>
<rect x="115" y="364" width="3" height="25" fill="#6aa684"/>
<rect x="123" y="308" width="1" height="108" fill="#727275"/>
<rect x="121" y="326" width="5" height="38" fill="#1f5636"/>
<rect x="122" y="327" width="3" height="36" fill="#6aa684"/>
<rect x="130" y="313" width="1" height="57" fill="#727275"/>
<rect x="128" y="327" width="5" height="10" fill="#5c1410"/>
<rect x="129" y="328" width="3" height="8" fill="#d95342"/>
<rect x="137" y="328" width="1" height="66" fill="#727275"/>
<rect x="135" y="348" width="5" height="45" fill="#5c1410"/>
<rect x="136" y="349" width="3" height="43" fill="#d95342"/>
<rect x="143" y="332" width="1" height="60" fill="#727275"/>
<rect x="141" y="360" width="5" height="31" fill="#1f5636"/>
<rect x="142" y="361" width="3" height="29" fill="#6aa684"/>
<rect x="150" y="329" width="1" height="74" fill="#727275"/>
<rect x="148" y="361" width="5" height="33" fill="#5c1410"/>
<rect x="149" y="362" width="3" height="31" fill="#d95342"/>
<rect x="157" y="356" width="1" height="46" fill="#727275"/>
<rect x="155" y="391" width="5" height="3" fill="#1f5636"/>
<rect x="156" y="392" width="3" height="1" fill="#6aa684"/>
<rect x="164" y="365" width="1" height="40" fill="#727275"/>
<rect x="162" y="385" width="5" height="7" fill="#1f5636"/>
<rect x="163" y="386" width="3" height="5" fill="#6aa684"/>
<rect x="170" y="353" width="1" height="36" fill="#727275"/>
<rect x="168" y="370" width="5" height="8" fill="#1f5636"/>
<rect x="169" y="371" width="3" height="6" fill="#6aa684"/>
<rect x="177" y="332" width="1" height="72" fill="#727275"/>
<rect x="175" y="371" width="5" height="26" fill="#5c1410"/>
<rect x="176" y="372" width="3" height="24" fill="#d95342"/>
<rect x="184" y="346" width="1" height="88" fill="#727275"/>
<rect x="182" y="377" width="5" height="21" fill="#1f5636"/>
<rect x="183" y="378" width="3" height="19" fill="#6aa684"/>
<rect x="191" y="350" width="1" height="59" fill="#727275"/>
<rect x="189" y="355" width="5" height="19" fill="#1f5636"/>
<rect x="190" y="356" width="3" height="17" fill="#6aa684"/>
<rect x="197" y="345" width="1" height="49" fill="#727275"/>
<rect x="195" y="355" width="5" height="26" fill="#5c1410"/>
<rect x="196" y="356" width="3" height="24" fill="#d95342"/>
<rect x="204" y="367" width="1" height="46" fill="#727275"/>
<rect x="202" y="376" width="5" height="37" fill="#5c1410"/>
<rect x="203" y="377" width="3" height="35" fill="#d95342"/>
<rect x="211" y="399" width="1" height="65" fill="#727275"/>
<rect x="209" y="408" width="5" height="33" fill="#5c1410"/>
<rect x="210" y="409" width="3" height="31" fill="#d95342"/>
<rect x="218" y="432" width="1" height="97" fill="#727275"/>
<rect x="216" y="439" width="5" height="82" fill="#5c1410"/>
<rect x="217" y="440" width="3" height="80" fill="#d95342"/>
<rect x="224" y="499" width="1" height="54" fill="#727275"/>
<rect x="222" y="520" width="5" height="1" fill="#5c1410"/>
<rect x="231" y="498" width="1" height="39" fill="#727275"/>
<rect x="229" y="504" width="5" height="19" fill="#1f5636"/>
<rect x="230" y="505" width="3" height="17" fill="#6aa684"/>
<rect x="238" y="453" width="1" height="54" fill="#727275"/>
<rect x="236" y="488" width="5" height="18" fill="#1f5636"/>
<rect x="237" y="489" width="3" height="16" fill="#6aa684"/>
<rect x="245" y="470" width="1" height="36" fill="#727275"/>
<rect x="243" y="485" width="5" height="10" fill="#5c1410"/>
<rect x="244" y="486" width="3" height="8" fill="#d95342"/>
<rect x="251" y="487" width="1" height="42" fill="#727275"/>
<rect x="249" y="495" width="5" height="14" fill="#5c1410"/>
<rect x="250" y="496" width="3" height="12" fill="#d95342"/>
<rect x="258" y="486" width="1" height="44" fill="#727275"/>
<rect x="256" y="509" width="5" height="21" fill="#5c1410"/>
<rect x="257" y="510" width="3" height="19" fill="#d95342"/>
<rect x="265" y="520" width="1" height="71" fill="#727275"/>
<rect x="263" y="529" width="5" height="60" fill="#5c1410"/>
<rect x="264" y="530" width="3" height="58" fill="#d95342"/>
<rect x="272" y="496" width="1" height="96" fill="#727275"/>
<rect x="270" y="515" width="5" height="63" fill="#1f5636"/>
<rect x="271" y="516" width="3" height="61" fill="#6aa684"/>
<rect x="278" y="487" width="1" height="89" fill="#727275"/>
<rect x="276" y="514" width="5" height="62" fill="#5c1410"/>
<rect x="277" y="515" width="3" height="60" fill="#d95342"/>
<rect x="285" y="563" width="1" height="29" fill="#727275"/>
<rect x="283" y="572" width="5" height="4" fill="#5c1410"/>
<rect x="284" y="573" width="3" height="2" fill="#d95342"/>
<rect x="292" y="518" width="1" height="69" fill="#727275"/>
<rect x="290" y="562" width="5" height="14" fill="#1f5636"/>
<rect x="291" y="563" width="3" height="12" fill="#6aa684"/>
<rect x="299" y="555" width="1" height="65" fill="#727275"/>
<rect x="297" y="561" width="5" height="45" fill="#5c1410"/>
<rect x="298" y="562" width="3" height="43" fill="#d95342"/>
<rect x="305" y="582" width="1" height="42" fill="#727275"/>
<rect x="303" y="601" width="5" height="4" fill="#5c1410"/>
<rect x="304" y="602" width="3" height="2" fill="#d95342"/>
<rect x="312" y="533" width="1" height="78" fill="#727275"/>
<rect x="310" y="576" width="5" height="26" fill="#1f5636"/>
<rect x="311" y="577" width="3" height="24" fill="#6aa684"/>
<rect x="319" y="493" width="1" height="122" fill="#727275"/>
<rect x="317" y="503" width="5" height="74" fill="#1f5636"/>
<rect x="318" y="504" width="3" height="72" fill="#6aa684"/>
<rect x="326" y="453" width="1" height="89" fill="#727275"/>
<rect x="324" y="503" width="5" height="16" fill="#5c1410"/>
<rect x="325" y="504" width="3" height="14" fill="#d95342"/>
<rect x="332" y="494" width="1" height="105" fill="#727275"/>
<rect x="330" y="514" width="5" height="41" fill="#5c1410"/>
<rect x="331" y="515" width="3" height="39" fill="#d95342"/>
<rect x="339" y="513" width="1" height="76" fill="#727275"/>
<rect x="337" y="538" width="5" height="24" fill="#1f5636"/>
<rect x="338" y="539" width="3" height="22" fill="#6aa684"/>
<rect x="346" y="486" width="1" height="66" fill="#727275"/>
<rect x="344" y="512" width="5" height="27" fill="#1f5636"/>
<rect x="345" y="513" width="3" height="25" fill="#6aa684"/>
<rect x="353" y="421" width="1" height="92" fill="#727275"/>
<rect x="351" y="454" width="5" height="57" fill="#1f5636"/>
<rect x="352" y="455" width="3" height="55" fill="#6aa684"/>
<rect x="359" y="442" width="1" height="48" fill="#727275"/>
<rect x="357" y="456" width="5" height="31" fill="#5c1410"/>
<rect x="358" y="457" width="3" height="29" fill="#d95342"/>
<rect x="366" y="480" width="1" height="60" fill="#727275"/>
<rect x="364" y="487" width="5" height="29" fill="#5c1410"/>
<rect x="365" y="488" width="3" height="27" fill="#d95342"/>
<rect x="373" y="498" width="1" height="35" fill="#727275"/>
<rect x="371" y="511" width="5" height="14" fill="#1f5636"/>
<rect x="372" y="512" width="3" height="12" fill="#6aa684"/>
<rect x="380" y="506" width="1" height="66" fill="#727275"/>
<rect x="378" y="508" width="5" height="64" fill="#5c1410"/>
<rect x="379" y="509" width="3" height="62" fill="#d95342"/>
<rect x="386" y="541" width="1" height="48" fill="#727275"/>
<rect x="384" y="571" width="5" height="18" fill="#5c1410"/>
<rect x="385" y="572" width="3" height="16" fill="#d95342"/>
<rect x="393" y="558" width="1" height="63" fill="#727275"/>
<rect x="391" y="584" width="5" height="5" fill="#1f5636"/>
<rect x="392" y="585" width="3" height="3" fill="#6aa684"/>
<rect x="400" y="573" width="1" height="42" fill="#727275"/>
<rect x="398" y="584" width="5" height="6" fill="#5c1410"/>
<rect x="399" y="585" width="3" height="4" fill="#d95342"/>
<rect x="407" y="529" width="1" height="66" fill="#727275"/>
<rect x="405" y="574" width="5" height="13" fill="#1f5636"/>
<rect x="406" y="575" width="3" height="11" fill="#6aa684"/>
<rect x="413" y="562" width="1" height="84" fill="#727275"/>
<rect x="411" y="576" width="5" height="60" fill="#5c1410"/>
<rect x="412" y="577" width="3" height="58" fill="#d95342"/>
<rect x="420" y="542" width="1" height="101" fill="#727275"/>
<rect x="418" y="554" width="5" height="84" fill="#1f5636"/>
<rect x="419" y="555" width="3" height="82" fill="#6aa684"/>
<rect x="427" y="543" width="1" height="58" fill="#727275"/>
<rect x="425" y="555" width="5" height="30" fill="#5c1410"/>
<rect x="426" y="556" width="3" height="28" fill="#d95342"/>
<rect x="434" y="538" width="1" height="48" fill="#727275"/>
<rect x="432" y="543" width="5" height="43" fill="#1f5636"/>
<rect x="433" y="544" width="3" height="41" fill="#6aa684"/>
<rect x="440" y="508" width="1" height="40" fill="#727275"/>
<rect x="438" y="515" width="5" height="25" fill="#1f5636"/>
<rect x="439" y="516" width="3" height="23" fill="#6aa684"/>
<rect x="447" y="484" width="1" height="55" fill="#727275"/>
<rect x="445" y="495" width="5" height="21" fill="#1f5636"/>
<rect x="446" y="496" width="3" height="19" fill="#6aa684"/>
<rect x="454" y="358" width="1" height="134" fill="#727275"/>
<rect x="452" y="423" width="5" height="69" fill="#1f5636"/>
<rect x="453" y="424" width="3" height="67" fill="#6aa684"/>
<rect x="461" y="362" width="1" height="72" fill="#727275"/>
<rect x="459" y="424" width="5" height="9" fill="#5c1410"/>
<rect x="460" y="425" width="3" height="7" fill="#d95342"/>
<rect x="467" y="389" width="1" height="67" fill="#727275"/>
<rect x="465" y="423" width="5" height="11" fill="#1f5636"/>
<rect x="466" y="424" width="3" height="9" fill="#6aa684"/>
<rect x="474" y="411" width="1" height="66" fill="#727275"/>
<rect x="472" y="426" width="5" height="43" fill="#5c1410"/>
<rect x="473" y="427" width="3" height="41" fill="#d95342"/>
<rect x="481" y="451" width="1" height="105" fill="#727275"/>
<rect x="479" y="466" width="5" height="87" fill="#5c1410"/>
<rect x="480" y="467" width="3" height="85" fill="#d95342"/>
<rect x="488" y="526" width="1" height="37" fill="#727275"/>
<rect x="486" y="554" width="5" height="4" fill="#5c1410"/>
<rect x="487" y="555" width="3" height="2" fill="#d95342"/>
<rect x="494" y="506" width="1" height="81" fill="#727275"/>
<rect x="492" y="544" width="5" height="15" fill="#1f5636"/>
<rect x="493" y="545" width="3" height="13" fill="#6aa684"/>
<rect x="501" y="521" width="1" height="58" fill="#727275"/>
<rect x="499" y="543" width="5" height="3" fill="#5c1410"/>
<rect x="500" y="544" width="3" height="1" fill="#d95342"/>
<rect x="508" y="519" width="1" height="50" fill="#727275"/>
<rect x="506" y="546" width="5" height="14" fill="#5c1410"/>
<rect x="507" y="547" width="3" height="12" fill="#d95342"/>
<rect x="514" y="490" width="1" height="88" fill="#727275"/>
<rect x="512" y="495" width="5" height="64" fill="#1f5636"/>
<rect x="513" y="496" width="3" height="62" fill="#6aa684"/>
<rect x="521" y="463" width="1" height="57" fill="#727275"/>
<rect x="519" y="495" width="5" height="6" fill="#5c1410"/>
<rect x="520" y="496" width="3" height="4" fill="#d95342"/>
<rect x="528" y="425" width="1" height="86" fill="#727275"/>
<rect x="526" y="487" width="5" height="14" fill="#1f5636"/>
<rect x="527" y="488" width="3" height="12" fill="#6aa684"/>
<rect x="535" y="435" width="1" height="68" fill="#727275"/>
<rect x="533" y="453" width="5" height="34" fill="#1f5636"/>
<rect x="534" y="454" width="3" height="32" fill="#6aa684"/>
<rect x="541" y="449" width="1" height="49" fill="#727275"/>
<rect x="539" y="455" width="5" height="43" fill="#5c1410"/>
<rect x="540" y="456" width="3" height="41" fill="#d95342"/>
<rect x="548" y="469" width="1" height="46" fill="#727275"/>
<rect x="546" y="497" width="5" height="17" fill="#5c1410"/>
<rect x="547" y="498" width="3" height="15" fill="#d95342"/>
<rect x="555" y="455" width="1" height="65" fill="#727275"/>
<rect x="553" y="464" width="5" height="51" fill="#1f5636"/>
<rect x="554" y="465" width="3" height="49" fill="#6aa684"/>
<rect x="562" y="409" width="1" height="57" fill="#727275"/>
<rect x="560" y="419" width="5" height="46" fill="#1f5636"/>
<rect x="561" y="420" width="3" height="44" fill="#6aa684"/>
<rect x="568" y="405" width="1" height="73" fill="#727275"/>
<rect x="566" y="417" width="5" height="57" fill="#5c1410"/>
<rect x="567" y="418" width="3" height="55" fill="#d95342"/>
<rect x="575" y="458" width="1" height="59" fill="#727275"/>
<rect x="573" y="473" width="5" height="43" fill="#5c1410"/>
<rect x="574" y="474" width="3" height="41" fill="#d95342"/>
<rect x="582" y="493" width="1" height="50" fill="#727275"/>
<rect x="580" y="515" width="5" height="21" fill="#5c1410"/>
<rect x="581" y="516" width="3" height="19" fill="#d95342"/>
<rect x="589" y="516" width="1" height="72" fill="#727275"/>
<rect x="587" y="532" width="5" height="55" fill="#5c1410"/>
<rect x="588" y="533" width="3" height="53" fill="#d95342"/>
<rect x="595" y="568" width="1" height="49" fill="#727275"/>
<rect x="593" y="586" width="5" height="27" fill="#5c1410"/>
<rect x="594" y="587" width="3" height="25" fill="#d95342"/>
<rect x="602" y="567" width="1" height="45" fill="#727275"/>
<rect x="600" y="595" width="5" height="17" fill="#1f5636"/>
<rect x="601" y="596" width="3" height="15" fill="#6aa684"/>
<rect x="609" y="560" width="1" height="44" fill="#727275"/>
<rect x="607" y="593" width="5" height="9" fill="#1f5636"/>
<rect x="608" y="594" width="3" height="7" fill="#6aa684"/>
<rect x="616" y="585" width="1" height="46" fill="#727275"/>
<rect x="614" y="593" width="5" height="35" fill="#5c1410"/>
<rect x="615" y="594" width="3" height="33" fill="#d95342"/>
<rect x="622" y="556" width="1" height="106" fill="#727275"/>
<rect x="620" y="597" width="5" height="32" fill="#1f5636"/>
<rect x="621" y="598" width="3" height="30" fill="#6aa684"/>
<rect x="629" y="531" width="1" height="66" fill="#727275"/>
<rect x="627" y="539" width="5" height="58" fill="#1f5636"/>
<rect x="628" y="540" width="3" height="56" fill="#6aa684"/>
<rect x="636" y="527" width="1" height="36" fill="#727275"/>
<rect x="634" y="534" width="5" height="7" fill="#1f5636"/>
<rect x="635" y="535" width="3" height="5" fill="#6aa684"/>
<rect x="643" y="507" width="1" height="36" fill="#727275"/>
<rect x="641" y="530" width="5" height="3" fill="#1f5636"/>
<rect x="642" y="531" width="3" height="1" fill="#6aa684"/>
<rect x="649" y="491" width="1" height="65" fill="#727275"/>
<rect x="647" y="504" width="5" height="29" fill="#1f5636"/>
<rect x="648" y="505" width="3" height="27" fill="#6aa684"/>
<rect x="656" y="490" width="1" height="40" fill="#727275"/>
<rect x="654" y="504" width="5" height="25" fill="#5c1410"/>
<rect x="655" y="505" width="3" height="23" fill="#d95342"/>
<rect x="663" y="508" width="1" height="66" fill="#727275"/>
<rect x="661" y="524" width="5" height="50" fill="#5c1410"/>
<rect x="662" y="525" width="3" height="48" fill="#d95342"/>
<rect x="670" y="545" width="1" height="40" fill="#727275"/>
<rect x="668" y="566" width="5" height="6" fill="#1f5636"/>
<rect x="669" y="567" width="3" height="4" fill="#6aa684"/>
<rect x="676" y="556" width="1" height="33" fill="#727275"/>
<rect x="674" y="566" width="5" height="21" fill="#5c1410"/>
<rect x="675" y="567" width="3" height="19" fill="#d95342"/>
<rect x="683" y="540" width="1" height="77" fill="#727275"/>
<rect x="681" y="586" width="5" height="23" fill="#5c1410"/>
<rect x="682" y="587" width="3" height="21" fill="#d95342"/>
<rect x="690" y="538" width="1" height="72" fill="#727275"/>
<rect x="688" y="543" width="5" height="65" fill="#1f5636"/>
<rect x="689" y="544" width="3" height="63" fill="#6aa684"/>
<rect x="697" y="503" width="1" height="42" fill="#727275"/>
<rect x="695" y="542" width="5" height="3" fill="#5c1410"/>
<rect x="696" y="543" width="3" height="1" fill="#d95342"/>
<rect x="703" y="516" width="1" height="35" fill="#727275"/>
<rect x="701" y="531" width="5" height="12" fill="#1f5636"/>
<rect x="702" y="532" width="3" height="10" fill="#6aa684"/>
<rect x="710" y="513" width="1" height="53" fill="#727275"/>
<rect x="708" y="519" width="5" height="13" fill="#1f5636"/>
<rect x="709" y="520" width="3" height="11" fill="#6aa684"/>
<rect x="717" y="486" width="1" height="63" fill="#727275"/>
<rect x="715" y="492" width="5" height="31" fill="#1f5636"/>
<rect x="716" y="493" width="3" height="29" fill="#6aa684"/>
<rect x="724" y="461" width="1" height="60" fill="#727275"/>
<rect x="722" y="494" width="5" height="27" fill="#5c1410"/>
<rect x="723" y="495" width="3" height="25" fill="#d95342"/>
<rect x="730" y="482" width="1" height="63" fill="#727275"/>
<rect x="728" y="521" width="5" height="24" fill="#5c1410"/>
<rect x="729" y="522" width="3" height="22" fill="#d95342"/>
<rect x="737" y="482" width="1" height="68" fill="#727275"/>
<rect x="735" y="493" width="5" height="52" fill="#1f5636"/>
<rect x="736" y="494" width="3" height="50" fill="#6aa684"/>
<rect x="744" y="456" width="1" height="51" fill="#727275"/>
<rect x="742" y="464" width="5" height="30" fill="#1f5636"/>
<rect x="743" y="465" width="3" height="28" fill="#6aa684"/>
<rect x="751" y="452" width="1" height="32" fill="#727275"/>
<rect x="749" y="464" width="5" height="20" fill="#5c1410"/>
<rect x="750" y="465" width="3" height="18" fill="#d95342"/>
<rect x="757" y="419" width="1" height="65" fill="#727275"/>
<rect x="755" y="451" width="5" height="33" fill="#1f5636"/>
<rect x="756" y="452" width="3" height="31" fill="#6aa684"/>
<rect x="764" y="367" width="1" height="99" fill="#727275"/>
<rect x="762" y="411" width="5" height="41" fill="#1f5636"/>
<rect x="763" y="412" width="3" height="39" fill="#6aa684"/>
<rect x="771" y="358" width="1" height="59" fill="#727275"/>
<rect x="769" y="361" width="5" height="46" fill="#1f5636"/>
<rect x="770" y="362" width="3" height="44" fill="#6aa684"/>
<rect x="778" y="356" width="1" height="49" fill="#727275"/>
<rect x="776" y="365" width="5" height="36" fill="#5c1410"/>
<rect x="777" y="366" width="3" height="34" fill="#d95342"/>
<rect x="784" y="351" width="1" height="55" fill="#727275"/>
<rect x="782" y="373" width="5" height="28" fill="#1f5636"/>
<rect x="783" y="374" width="3" height="26" fill="#6aa684"/>
<rect x="791" y="356" width="1" height="72" fill="#727275"/>
<rect x="789" y="367" width="5" height="61" fill="#5c1410"/>
<rect x="790" y="368" width="3" height="59" fill="#d95342"/>
<rect x="798" y="416" width="1" height="45" fill="#727275"/>
<rect x="796" y="426" width="5" height="3" fill="#1f5636"/>
<rect x="797" y="427" width="3" height="1" fill="#6aa684"/>
<rect x="805" y="388" width="1" height="56" fill="#727275"/>
<rect x="803" y="408" width="5" height="17" fill="#1f5636"/>
<rect x="804" y="409" width="3" height="15" fill="#6aa684"/>
<rect x="811" y="396" width="1" height="32" fill="#727275"/>
<rect x="809" y="408" width="5" height="1" fill="#1f5636"/>
<rect x="818" y="372" width="1" height="47" fill="#727275"/>
<rect x="816" y="407" width="5" height="7" fill="#5c1410"/>
<rect x="817" y="408" width="3" height="5" fill="#d95342"/>
<rect x="825" y="385" width="1" height="62" fill="#727275"/>
<rect x="823" y="412" width="5" height="14" fill="#5c1410"/>
<rect x="824" y="413" width="3" height="12" fill="#d95342"/>
<rect x="832" y="397" width="1" height="40" fill="#727275"/>
<rect x="830" y="425" width="5" height="8" fill="#5c1410"/>
<rect x="831" y="426" width="3" height="6" fill="#d95342"/>
<rect x="838" y="413" width="1" height="33" fill="#727275"/>
<rect x="836" y="433" width="5" height="1" fill="#5c1410"/>
<rect x="845" y="421" width="1" height="46" fill="#727275"/>
<rect x="843" y="425" width="5" height="36" fill="#5c1410"/>
<rect x="844" y="426" width="3" height="34" fill="#d95342"/>
<rect x="852" y="424" width="1" height="39" fill="#727275"/>
<rect x="850" y="461" width="5" height="2" fill="#5c1410"/>
<rect x="859" y="443" width="1" height="39" fill="#727275"/>
<rect x="857" y="465" width="5" height="8" fill="#5c1410"/>
<rect x="858" y="466" width="3" height="6" fill="#d95342"/>
<rect x="865" y="430" width="1" height="44" fill="#727275"/>
<rect x="863" y="440" width="5" height="30" fill="#1f5636"/>
<rect x="864" y="441" width="3" height="28" fill="#6aa684"/>
<rect x="872" y="411" width="1" height="45" fill="#727275"/>
<rect x="870" y="428" width="5" height="17" fill="#1f5636"/>
<rect x="871" y="429" width="3" height="15" fill="#6aa684"/>
<rect x="879" y="401" width="1" height="45" fill="#727275"/>
<rect x="877" y="429" width="5" height="17" fill="#5c1410"/>
<rect x="878" y="430" width="3" height="15" fill="#d95342"/>
<rect x="885" y="373" width="1" height="72" fill="#727275"/>
<rect x="883" y="389" width="5" height="54" fill="#1f5636"/>
<rect x="884" y="390" width="3" height="52" fill="#6aa684"/>
<rect x="892" y="376" width="1" height="41" fill="#727275"/>
<rect x="890" y="393" width="5" height="7" fill="#5c1410"/>
<rect x="891" y="394" width="3" height="5" fill="#d95342"/>
<rect x="899" y="334" width="1" height="62" fill="#727275"/>
<rect x="897" y="343" width="5" height="53" fill="#1f5636"/>
<rect x="898" y="344" width="3" height="51" fill="#6aa684"/>
<rect x="906" y="300" width="1" height="49" fill="#727275"/>
<rect x="904" y="343" width="5" height="3" fill="#5c1410"/>
<rect x="905" y="344" width="3" height="1" fill="#d95342"/>
<rect x="912" y="322" width="1" height="36" fill="#727275"/>
<rect x="910" y="344" width="5" height="2" fill="#1f5636"/>
<rect x="919" y="339" width="1" height="45" fill="#727275"/>
<rect x="917" y="346" width="5" height="3" fill="#5c1410"/>
<rect x="918" y="347" width="3" height="1" fill="#d95342"/>
<rect x="926" y="320" width="1" height="29" fill="#727275"/>
<rect x="924" y="325" width="5" height="24" fill="#1f5636"/>
<rect x="925" y="326" width="3" height="22" fill="#6aa684"/>
<rect x="933" y="309" width="1" height="63" fill="#727275"/>
<rect x="931" y="327" width="5" height="25" fill="#5c1410"/>
<rect x="932" y="328" width="3" height="23" fill="#d95342"/>
<rect x="939" y="320" width="1" height="45" fill="#727275"/>
<rect x="937" y="339" width="5" height="13" fill="#1f5636"/>
<rect x="938" y="340" width="3" height="11" fill="#6aa684"/>
<rect x="946" y="300" width="1" height="50" fill="#727275"/>
<rect x="944" y="323" width="5" height="27" fill="#1f5636"/>
<rect x="945" y="324" width="3" height="25" fill="#6aa684"/>
<rect x="953" y="281" width="1" height="77" fill="#727275"/>
<rect x="951" y="324" width="5" height="34" fill="#5c1410"/>
<rect x="952" y="325" width="3" height="32" fill="#d95342"/>
<rect x="960" y="341" width="1" height="43" fill="#727275"/>
<rect x="958" y="357" width="5" height="10" fill="#5c1410"/>
<rect x="959" y="358" width="3" height="8" fill="#d95342"/>
<rect x="966" y="307" width="1" height="68" fill="#727275"/>
<rect x="964" y="356" width="5" height="14" fill="#1f5636"/>
<rect x="965" y="357" width="3" height="12" fill="#6aa684"/>
<rect x="973" y="328" width="1" height="83" fill="#727275"/>
<rect x="971" y="357" width="5" height="46" fill="#5c1410"/>
<rect x="972" y="358" width="3" height="44" fill="#d95342"/>
<rect x="980" y="380" width="1" height="52" fill="#727275"/>
<rect x="978" y="390" width="5" height="13" fill="#1f5636"/>
<rect x="979" y="391" width="3" height="11" fill="#6aa684"/>
<rect x="987" y="354" width="1" height="38" fill="#727275"/>
<rect x="985" y="364" width="5" height="26" fill="#1f5636"/>
<rect x="986" y="365" width="3" height="24" fill="#6aa684"/>
<rect x="993" y="333" width="1" height="32" fill="#727275"/>
<rect x="991" y="335" width="5" height="28" fill="#1f5636"/>
<rect x="992" y="336" width="3" height="26" fill="#6aa684"/>
<rect x="1000" y="316" width="1" height="53" fill="#727275"/>
<rect x="998" y="324" width="5" height="15" fill="#1f5636"/>
<rect x="999" y="325" width="3" height="13" fill="#6aa684"/>
<rect x="1007" y="278" width="1" height="57" fill="#727275"/>
<rect x="1005" y="306" width="5" height="15" fill="#1f5636"/>
<rect x="1006" y="307" width="3" height="13" fill="#6aa684"/>
<rect x="1014" y="296" width="1" height="51" fill="#727275"/>
<rect x="1012" y="302" width="5" height="41" fill="#5c1410"/>
<rect x="1013" y="303" width="3" height="39" fill="#d95342"/>
<rect x="1020" y="314" width="1" height="61" fill="#727275"/>
<rect x="1018" y="341" width="5" height="20" fill="#5c1410"/>
<rect x="1019" y="342" width="3" height="18" fill="#d95342"/>
<rect x="1027" y="301" width="1" height="61" fill="#727275"/>
<rect x="1025" y="308" width="5" height="54" fill="#1f5636"/>
<rect x="1026" y="309" width="3" height="52" fill="#6aa684"/>
<rect x="1034" y="263" width="1" height="50" fill="#727275"/>
<rect x="1032" y="300" width="5" height="12" fill="#1f5636"/>
<rect x="1033" y="301" width="3" height="10" fill="#6aa684"/>
<rect x="1041" y="267" width="1" height="41" fill="#727275"/>
<rect x="1039" y="276" width="5" height="24" fill="#1f5636"/>
<rect x="1040" y="277" width="3" height="22" fill="#6aa684"/>
<rect x="1047" y="263" width="1" height="34" fill="#727275"/>
<rect x="1045" y="280" width="5" height="12" fill="#5c1410"/>
<rect x="1046" y="281" width="3" height="10" fill="#d95342"/>
<rect x="1054" y="283" width="1" height="75" fill="#727275"/>
<rect x="1052" y="291" width="5" height="67" fill="#5c1410"/>
<rect x="1053" y="292" width="3" height="65" fill="#d95342"/>
<rect x="1061" y="323" width="1" height="48" fill="#727275"/>
<rect x="1059" y="336" width="5" height="23" fill="#1f5636"/>
<rect x="1060" y="337" width="3" height="21" fill="#6aa684"/>
<rect x="1068" y="324" width="1" height="55" fill="#727275"/>
<rect x="1066" y="336" width="5" height="24" fill="#5c1410"/>
<rect x="1067" y="337" width="3" height="22" fill="#d95342"/>
<rect x="1074" y="349" width="1" height="51" fill="#727275"/>
<rect x="1072" y="359" width="5" height="32" fill="#5c1410"/>
<rect x="1073" y="360" width="3" height="30" fill="#d95342"/>
<rect x="1081" y="375" width="1" height="46" fill="#727275"/>
<rect x="1079" y="389" width="5" height="14" fill="#5c1410"/>
<rect x="1080" y="390" width="3" height="12" fill="#d95342"/>
<rect x="1088" y="384" width="1" height="41" fill="#727275"/>
<rect x="1086" y="400" width="5" height="22" fill="#5c1410"/>
<rect x="1087" y="401" width="3" height="20" fill="#d95342"/>
<rect x="1095" y="414" width="1" height="38" fill="#727275"/>
<rect x="1093" y="421" width="5" height="29" fill="#5c1410"/>
<rect x="1094" y="422" width="3" height="27" fill="#d95342"/>
<rect x="1101" y="433" width="1" height="53" fill="#727275"/>
<rect x="1099" y="451" width="5" height="22" fill="#5c1410"/>
<rect x="1100" y="452" width="3" height="20" fill="#d95342"/>
<rect x="1108" y="454" width="1" height="113" fill="#727275"/>
<rect x="1106" y="470" width="5" height="96" fill="#5c1410"/>
<rect x="1107" y="471" width="3" height="94" fill="#d95342"/>
<rect x="1115" y="527" width="1" height="41" fill="#727275"/>
<rect x="1113" y="540" width="5" height="21" fill="#1f5636"/>
<rect x="1114" y="541" width="3" height="19" fill="#6aa684"/>
<rect x="1122" y="523" width="1" height="35" fill="#727275"/>
<rect x="1120" y="543" width="5" height="10" fill="#5c1410"/>
<rect x="1121" y="544" width="3" height="8" fill="#d95342"/>
<rect x="1128" y="542" width="1" height="31" fill="#727275"/>
<rect x="1126" y="549" width="5" height="3" fill="#5c1410"/>
<rect x="1127" y="550" width="3" height="1" fill="#d95342"/>
<rect x="1135" y="529" width="1" height="43" fill="#727275"/>
<rect x="1133" y="549" width="5" height="4" fill="#1f5636"/>
<rect x="1134" y="550" width="3" height="2" fill="#6aa684"/>
<rect x="1142" y="523" width="1" height="35" fill="#727275"/>
<rect x="1140" y="542" width="5" height="1" fill="#1f5636"/>
<rect x="1149" y="523" width="1" height="57" fill="#727275"/>
<rect x="1147" y="539" width="5" height="7" fill="#5c1410"/>
<rect x="1148" y="540" width="3" height="5" fill="#d95342"/>
<rect x="1155" y="493" width="1" height="74" fill="#727275"/>
<rect x="1153" y="519" width="5" height="39" fill="#1f5636"/>
<rect x="1154" y="520" width="3" height="37" fill="#6aa684"/>
<rect x="1162" y="463" width="1" height="59" fill="#727275"/>
<rect x="1160" y="485" width="5" height="33" fill="#1f5636"/>
<rect x="1161" y="486" width="3" height="31" fill="#6aa684"/>
<rect x="1169" y="456" width="1" height="68" fill="#727275"/>
<rect x="1167" y="484" width="5" height="8" fill="#5c1410"/>
<rect x="1168" y="485" width="3" height="6" fill="#d95342"/>
<rect x="1176" y="481" width="1" height="66" fill="#727275"/>
<rect x="1174" y="495" width="5" height="25" fill="#5c1410"/>
<rect x="1175" y="496" width="3" height="23" fill="#d95342"/>
<rect x="1182" y="438" width="1" height="79" fill="#727275"/>
<rect x="1180" y="454" width="5" height="62" fill="#1f5636"/>
<rect x="1181" y="455" width="3" height="60" fill="#6aa684"/>
<rect x="1189" y="446" width="1" height="62" fill="#727275"/>
<rect x="1187" y="453" width="5" height="23" fill="#5c1410"/>
<rect x="1188" y="454" width="3" height="21" fill="#d95342"/>
<rect x="1196" y="405" width="1" height="74" fill="#727275"/>
<rect x="1194" y="428" width="5" height="44" fill="#1f5636"/>
<rect x="1195" y="429" width="3" height="42" fill="#6aa684"/>
<rect x="1203" y="381" width="1" height="49" fill="#727275"/>
<rect x="1201" y="395" width="5" height="33" fill="#1f5636"/>
<rect x="1202" y="396" width="3" height="31" fill="#6aa684"/>
<rect x="1209" y="388" width="1" height="44" fill="#727275"/>
<rect x="1207" y="397" width="5" height="10" fill="#5c1410"/>
<rect x="1208" y="398" width="3" height="8" fill="#d95342"/>
<rect x="1216" y="366" width="1" height="62" fill="#727275"/>
<rect x="1214" y="397" width="5" height="4" fill="#5c1410"/>
<rect x="1215" y="398" width="3" height="2" fill="#d95342"/>
<rect x="1223" y="380" width="1" height="28" fill="#727275"/>
<rect x="1221" y="397" width="5" height="6" fill="#1f5636"/>
<rect x="1222" y="398" width="3" height="4" fill="#6aa684"/>
<rect x="1230" y="361" width="1" height="46" fill="#727275"/>
<rect x="1228" y="395" width="5" height="4" fill="#1f5636"/>
<rect x="1229" y="396" width="3" height="2" fill="#6aa684"/>
<rect x="1236" y="337" width="1" height="65" fill="#727275"/>
<rect x="1234" y="380" width="5" height="15" fill="#1f5636"/>
<rect x="1235" y="381" width="3" height="13" fill="#6aa684"/>
<rect x="1243" y="358" width="1" height="59" fill="#727275"/>
<rect x="1241" y="382" width="5" height="28" fill="#5c1410"/>
<rect x="1242" y="383" width="3" height="26" fill="#d95342"/>
<rect x="1250" y="380" width="1" height="26" fill="#727275"/>
<rect x="1248" y="390" width="5" height="14" fill="#1f5636"/>
<rect x="1249" y="391" width="3" height="12" fill="#6aa684"/>
<rect x="1256" y="386" width="1" height="52" fill="#727275"/>
<rect x="1254" y="393" width="5" height="15" fill="#5c1410"/>
<rect x="1255" y="394" width="3" height="13" fill="#d95342"/>
<rect x="1263" y="394" width="1" height="86" fill="#727275"/>
<rect x="1261" y="407" width="5" height="66" fill="#5c1410"/>
<rect x="1262" y="408" width="3" height="64" fill="#d95342"/>
<rect x="1270" y="449" width="1" height="41" fill="#727275"/>
<rect x="1268" y="464" width="5" height="10" fill="#1f5636"/>
<rect x="1269" y="465" width="3" height="8" fill="#6aa684"/>
<rect x="1277" y="456" width="1" height="50" fill="#727275"/>
<rect x="1275" y="461" width="5" height="45" fill="#5c1410"/>
<rect x="1276" y="462" width="3" height="43" fill="#d95342"/>
<rect x="1283" y="475" width="1" height="48" fill="#727275"/>
<rect x="1281" y="500" width="5" height="23" fill="#5c1410"/>
<rect x="1282" y="501" width="3" height="21" fill="#d95342"/>
<rect x="1290" y="495" width="1" height="30" fill="#727275"/>
<rect x="1288" y="506" width="5" height="18" fill="#1f5636"/>
<rect x="1289" y="507" width="3" height="16" fill="#6aa684"/>
<rect x="1297" y="476" width="1" height="36" fill="#727275"/>
<rect x="1295" y="491" width="5" height="17" fill="#1f5636"/>
<rect x="1296" y="492" width="3" height="15" fill="#6aa684"/>
<rect x="1304" y="481" width="1" height="33" fill="#727275"/>
<rect x="1302" y="495" width="5" height="15" fill="#5c1410"/>
<rect x="1303" y="496" width="3" height="13" fill="#d95342"/>
<rect x="1310" y="496" width="1" height="30" fill="#727275"/>
<rect x="1308" y="508" width="5" height="18" fill="#5c1410"/>
<rect x="1309" y="509" width="3" height="16" fill="#d95342"/>
<rect x="1317" y="488" width="1" height="40" fill="#727275"/>
<rect x="1315" y="503" width="5" height="25" fill="#1f5636"/>
<rect x="1316" y="504" width="3" height="23" fill="#6aa684"/>
<rect x="1324" y="476" width="1" height="42" fill="#727275"/>
<rect x="1322" y="497" width="5" height="13" fill="#1f5636"/>
<rect x="1323" y="498" width="3" height="11" fill="#6aa684"/>
<rect x="1331" y="479" width="1" height="73" fill="#727275"/>
<rect x="1329" y="502" width="5" height="28" fill="#5c1410"/>
<rect x="1330" y="503" width="3" height="26" fill="#d95342"/>
<rect x="1337" y="518" width="1" height="53" fill="#727275"/>
<rect x="1335" y="533" width="5" height="37" fill="#5c1410"/>
<rect x="1336" y="534" width="3" height="35" fill="#d95342"/>
<rect x="1344" y="516" width="1" height="56" fill="#727275"/>
<rect x="1342" y="541" width="5" height="31" fill="#1f5636"/>
<rect x="1343" y="542" width="3" height="29" fill="#6aa684"/>
<rect x="1351" y="530" width="1" height="42" fill="#727275"/>
<rect x="1349" y="536" width="5" height="25" fill="#5c1410"/>
<rect x="1350" y="537" width="3" height="23" fill="#d95342"/>
<rect x="1358" y="555" width="1" height="29" fill="#727275"/>
<rect x="1356" y="562" width="5" height="12" fill="#5c1410"/>
<rect x="1357" y="563" width="3" height="10" fill="#d95342"/>
<rect x="1364" y="562" width="1" height="37" fill="#727275"/>
<rect x="1362" y="580" width="5" height="8" fill="#5c1410"/>
<rect x="1363" y="581" width="3" height="6" fill="#d95342"/>
</g>
<polyline points="2.9,692.8 14.4,695.9 31.2,696.9 48.0,698.3 63.5,695.2 72.0,696.4 84.0,695.2 96.0,693.3 105.5,694.0 115.0,695.2 124.6,693.3 136.6,694.0 149.8,693.5 160.6,696.4 170.2,699.3 184.6,696.9 196.5,698.1 206.0,699.3 218.0,696.9 230.0,698.3 239.7,700.0 251.7,702.4 258.9,703.1 268.5,701.2 278.0,698.1 285.2,700.0 297.2,699.3 306.8,700.5 311.6,699.3 321.2,694.5 333.2,690.4 345.2,689.7 353.5,688.5 360.0,689.9 366.0,690.9 373.2,693.3 380.4,693.5 386.4,694.5 393.6,694.9 399.5,696.4 406.7,696.4 412.7,695.2 419.9,692.3 427.1,692.8 434.3,694.7 440.3,696.4 446.8,697.3 454.0,691.6 460.7,691.3 473.9,691.6 481.0,689.2 487.0,691.6 494.2,690.9 501.4,691.6 508.1,692.8 514.6,691.6 521.8,691.8 529.0,690.6 535.0,690.6 541.0,692.1 547.0,693.3 554.2,693.7 561.3,694.2 568.5,693.7 575.7,694.5 581.7,695.4 588.9,694.9 596.1,696.1 602.1,697.3 609.3,698.8 616.0,700.0 622.5,696.6 629.7,696.6 635.6,698.3 642.8,700.2 648.8,700.2 656.0,701.4 663.2,701.4 669.2,702.9 675.9,704.8 683.6,703.1 690.3,702.4 696.8,703.6 702.8,705.0 708.8,705.2 714.7,704.8 720.0,704.3 729.6,703.6 736.8,702.6 744.0,703.1 750.0,705.2 757.2,704.3 763.1,701.4 770.3,701.2 777.5,702.1 783.5,702.1 790.7,701.2 796.7,702.1 803.9,702.6 811.1,704.5 818.3,705.2 824.3,704.5 831.5,705.7 837.4,706.9 844.6,707.9 851.8,708.8 859.0,710.0 868.6,710.5 878.2,711.2 885.4,709.6 891.4,710.3 899.8,709.3 907.0,709.6 914.2,710.3 920.1,711.0 926.1,712.0 933.3,711.0 939.3,711.2 945.3,711.0 952.5,709.3 959.7,709.6 966.9,707.9 972.9,706.2 980.1,706.0 986.1,706.9 993.2,708.8 1000.4,708.8 1007.6,708.4 1014.8,708.1 1023.2,707.2 1031.6,707.2 1040.0,708.4 1047.2,709.6 1053.2,708.1 1060.4,708.4 1070.0,707.9 1080.0,708.5 1087.2,709.6 1094.4,710.5 1100.4,710.5 1108.3,705.2 1114.8,706.2 1121.9,708.1 1127.9,709.3 1135.1,710.3 1142.3,711.2 1149.5,710.3 1155.5,708.8 1162.7,708.1 1168.7,706.9 1175.9,705.7 1181.9,704.3 1189.1,703.6 1196.2,702.4 1202.2,702.9 1209.4,704.1 1215.4,703.6 1222.6,705.5 1228.6,706.2 1235.8,705.5 1243.0,705.0 1250.2,706.7 1256.2,706.7 1263.4,704.5 1269.4,705.5 1276.5,706.0 1283.7,706.7 1289.7,708.1 1296.9,709.6 1304.1,711.2 1310.1,712.4 1317.3,713.2 1323.3,713.4 1330.5,711.5 1336.5,711.0 1343.7,710.5 1350.9,711.2 1356.8,712.4 1364.0,713.4" fill="none" stroke="#c2403d" stroke-width="1.1" stroke-linejoin="round" stroke-linecap="round" clip-path="url(#cpAll)" />
<polyline points="2.9,735.2 9.6,741.9 15.6,746.7 22.8,744.8 28.8,738.3 36.0,737.1 48.0,737.6 56.3,744.8 62.8,760.6 69.0,764.7 76.2,756.3 83.4,755.8 89.9,771.9 95.9,784.6 102.6,783.4 109.8,786.7 116.3,780.3 123.4,773.1 129.9,770.0 136.6,771.4 143.3,768.3 149.8,768.3 163.0,767.1 170.2,764.2 177.4,764.7 184.1,765.4 190.6,763.0 197.0,762.5 203.7,767.1 210.9,776.7 218.1,797.0 224.1,797.5 231.3,785.0 237.8,773.1 244.5,771.2 251.7,771.6 258.4,770.7 264.9,775.5 272.0,768.8 278.0,768.8 284.8,771.4 291.2,767.6 298.4,771.4 304.9,772.4 311.6,767.1 318.8,759.9 325.5,752.7 332.0,760.6 338.7,759.2 345.9,747.9 352.8,731.1 360.0,738.8 366.0,748.4 373.2,748.6 379.7,758.7 385.9,765.4 393.1,769.0 399.5,769.7 406.0,760.6 413.2,773.1 419.9,763.5 426.6,761.8 433.1,756.8 440.3,747.9 446.8,743.8 454.0,726.8 460.2,728.0 466.7,733.5 473.9,740.7 480.6,753.9 487.0,759.4 494.2,758.2 507.9,758.2 514.6,752.2 521.8,747.9 528.3,744.8 535.0,744.3 541.4,749.1 547.7,753.2 554.6,749.8 561.8,740.0 567.8,746.0 574.5,757.5 581.7,764.2 588.2,771.9 594.9,778.6 602.1,774.8 609.3,771.4 616.0,775.0 622.5,770.7 628.9,760.6 635.6,758.2 642.8,755.3 648.8,753.2 656.0,752.5 662.5,759.2 669.2,761.1 676.4,763.5 682.9,765.2 690.3,758.7 696.0,748.4 702.8,746.7 710.0,745.3 716.4,737.1 723.6,737.1 730.1,745.3 736.8,741.2 744.0,732.3 750.0,732.3 757.2,727.1 763.9,722.3 770.8,721.1 777.0,729.5 784.0,732.8 790.7,739.5 797.9,746.2 803.9,743.8 811.1,744.3 817.8,744.3 825.0,748.2 831.5,749.8 838.2,752.2 844.6,757.3 851.4,758.7 857.8,764.2 865.0,760.6 871.5,757.0 878.7,757.5 884.9,745.8 891.9,744.3 899.1,729.5 905.8,723.2 911.8,730.4 918.9,736.6 925.7,733.1 932.8,738.6 939.3,740.5 945.8,738.6 952.5,741.9 959.7,749.6 966.2,746.7 972.9,753.9 980.1,759.9 986.5,753.4 993.2,747.2 1000.0,745.0 1006.9,734.7 1013.6,744.8 1020.1,755.1 1026.8,741.2 1034.0,726.8 1040.0,727.5 1047.2,732.3 1053.9,753.2 1060.4,757.5 1066.8,762.3 1073.5,770.2 1080.0,775.0 1088.4,776.2 1094.4,780.8 1100.4,781.5 1108.3,788.2 1114.8,785.1 1121.2,779.1 1127.9,776.2 1135.1,772.6 1141.8,769.5 1149.0,767.8 1155.5,764.2 1162.2,760.1 1168.7,759.4 1175.2,761.6 1181.9,754.6 1189.1,754.1 1195.5,746.2 1202.2,738.6 1209.0,738.8 1215.9,736.9 1222.6,736.6 1235.8,736.6 1243.0,741.9 1249.7,743.1 1256.2,747.2 1263.4,753.9 1270.1,758.7 1277.0,764.2 1283.7,769.2 1290.5,769.7 1297.4,765.9 1304.1,767.8 1310.6,770.7 1317.3,767.6 1323.3,765.4 1330.5,769.0 1337.0,772.4 1343.7,770.0 1350.9,770.7 1357.3,772.4 1364.0,774.0" fill="none" stroke="#3a6cf5" stroke-width="1.2" stroke-linejoin="round" stroke-linecap="round" clip-path="url(#cpAll)" />
<rect x="7" y="28" width="168" height="32" fill="#fff" opacity="0.55"/>
<rect x="3" y="688" width="136" height="26" fill="#fff" opacity="0.55"/>
<rect x="3" y="722" width="170" height="24" fill="#fff" opacity="0.45"/>
<g>
<circle cx="24.3" cy="14.3" r="5.9" fill="#e9edf5"/>
<g clip-path="url(#ukc)">
</g>
<defs><clipPath id="ukc"><circle cx="24.3" cy="14.3" r="5.9"/></clipPath></defs>
<g clip-path="url(#ukc)"><rect x="18" y="8" width="13" height="13" fill="#24409f"/><path d="M18 8 L31 21 M31 8 L18 21" stroke="#dfe6f5" stroke-width="2.2"/><path d="M18 8 L31 21 M31 8 L18 21" stroke="#ee5468" stroke-width="0.9"/><path d="M24.1 8 V21 M18 14.7 H31" stroke="#f4f6fb" stroke-width="3.2"/><path d="M24.1 8 V21 M18 14.7 H31" stroke="#f0566a" stroke-width="1.9"/></g>
<circle cx="17.9" cy="21" r="6.7" fill="#fff"/>
<circle cx="17.9" cy="21" r="6" fill="#1c62bd"/>
<circle cx="21.40" cy="21.00" r="0.7" fill="#f5d04a"/>
<circle cx="20.37" cy="23.47" r="0.7" fill="#f5d04a"/>
<circle cx="17.90" cy="24.50" r="0.7" fill="#f5d04a"/>
<circle cx="15.43" cy="23.47" r="0.7" fill="#f5d04a"/>
<circle cx="14.40" cy="21.00" r="0.7" fill="#f5d04a"/>
<circle cx="15.43" cy="18.53" r="0.7" fill="#f5d04a"/>
<circle cx="17.90" cy="17.50" r="0.7" fill="#f5d04a"/>
<circle cx="20.37" cy="18.53" r="0.7" fill="#f5d04a"/>
</g>
<text x="34.7" y="23.6" font-size="16.2" fill="#4a4a4a" font-weight="normal" text-anchor="start" textLength="207" lengthAdjust="spacingAndGlyphs" >Euro / British Pound · 1D · ICE</text>
<circle cx="266.6" cy="18" r="8.8" fill="#d9f0ec"/>
<circle cx="266.6" cy="18" r="4" fill="#089981"/>
<text x="292.3" y="23" font-size="13" fill="#5a5a5a" font-weight="normal" text-anchor="start" textLength="8.2" lengthAdjust="spacingAndGlyphs" >O</text>
<text x="301.9" y="23" font-size="13" fill="#722a2a" font-weight="normal" text-anchor="start" textLength="45" lengthAdjust="spacingAndGlyphs" >0.85496</text>
<text x="354.3" y="23" font-size="13" fill="#5a5a5a" font-weight="normal" text-anchor="start" textLength="7.6" lengthAdjust="spacingAndGlyphs" >H</text>
<text x="363.3" y="23" font-size="13" fill="#722a2a" font-weight="normal" text-anchor="start" textLength="45" lengthAdjust="spacingAndGlyphs" >0.85613</text>
<text x="415.7" y="23" font-size="13" fill="#5a5a5a" font-weight="normal" text-anchor="start" textLength="5.8" lengthAdjust="spacingAndGlyphs" >L</text>
<text x="423.4" y="23" font-size="13" fill="#722a2a" font-weight="normal" text-anchor="start" textLength="44.4" lengthAdjust="spacingAndGlyphs" >0.85361</text>
<text x="474.4" y="23" font-size="13" fill="#5a5a5a" font-weight="normal" text-anchor="start" textLength="7.6" lengthAdjust="spacingAndGlyphs" >C</text>
<text x="483.4" y="23" font-size="13" fill="#722a2a" font-weight="normal" text-anchor="start" textLength="45" lengthAdjust="spacingAndGlyphs" >0.85443</text>
<text x="535.3" y="23" font-size="13" fill="#722a2a" font-weight="normal" text-anchor="start" textLength="52" lengthAdjust="spacingAndGlyphs" >−0.00097</text>
<text x="592.6" y="23" font-size="13" fill="#722a2a" font-weight="normal" text-anchor="start" textLength="47.8" lengthAdjust="spacingAndGlyphs" >(−0.11%)</text>
<rect x="11.5" y="34.5" width="60.5" height="23" rx="4" ry="4" fill="#fff" stroke="#f23645" stroke-width="1"/>
<text x="19.2" y="50.7" font-size="12.4" fill="#f23645" font-weight="normal" text-anchor="start" textLength="37.9" lengthAdjust="spacingAndGlyphs" >0.8544</text>
<text x="57.9" y="47.9" font-size="9.6" fill="#f23645" font-weight="normal" text-anchor="start" >3</text>
<text x="80.3" y="49.9" font-size="10.8" fill="#3a3a3a" font-weight="normal" text-anchor="start" textLength="14.7" lengthAdjust="spacingAndGlyphs" >1.0</text>
<rect x="103.5" y="34.5" width="60.5" height="23" rx="4" ry="4" fill="#fff" stroke="#2962ff" stroke-width="1"/>
<text x="111.2" y="50.7" font-size="12.4" fill="#2962ff" font-weight="normal" text-anchor="start" textLength="37.9" lengthAdjust="spacingAndGlyphs" >0.8545</text>
<text x="149.9" y="47.9" font-size="9.6" fill="#2962ff" font-weight="normal" text-anchor="start" >3</text>
<text x="12" y="77.8" font-size="12.2" fill="#555" font-weight="normal" text-anchor="start" textLength="382.7" lengthAdjust="spacingAndGlyphs" >MA Ribbon SMA close 20 SMA close 50 SMA close 100 SMA close 200</text>
<text x="403.5" y="77.8" font-size="12.4" fill="#f23645" font-weight="normal" text-anchor="start" textLength="44.8" lengthAdjust="spacingAndGlyphs" >0.86059</text>
<text x="455.4" y="77.8" font-size="12.4" fill="#2962ff" font-weight="normal" text-anchor="start" textLength="44.8" lengthAdjust="spacingAndGlyphs" >0.86284</text>
<text x="507.6" y="77.8" font-size="10.2" fill="#333" font-weight="normal" text-anchor="start" font-style="italic">Ø</text>
<text x="521.4" y="77.8" font-size="12.4" fill="#1a1a1a" font-weight="normal" text-anchor="start" textLength="44" lengthAdjust="spacingAndGlyphs" >0.86366</text>
<rect x="12.5" y="89.5" width="28" height="18" rx="3" ry="3" fill="#fff" stroke="#d9dbe3" stroke-width="1"/>
<path d="M22.6 100.6 L26.5 96.8 L30.4 100.6" fill="none" stroke="#222" stroke-width="1.4"/>
<text x="12" y="708.3" font-size="12" fill="#555" font-weight="normal" text-anchor="start" textLength="67.2" lengthAdjust="spacingAndGlyphs" >ATR 14 RMA</text>
<text x="88.2" y="708.3" font-size="12.2" fill="#c2403d" font-weight="normal" text-anchor="start" textLength="44" lengthAdjust="spacingAndGlyphs" >0.00321</text>
<text x="12" y="737.6" font-size="12" fill="#555" font-weight="normal" text-anchor="start" textLength="101.2" lengthAdjust="spacingAndGlyphs" >CCI 20 hlc3 SMA 5</text>
<text x="123.2" y="737.6" font-size="12.2" fill="#2962ff" font-weight="normal" text-anchor="start" textLength="44.2" lengthAdjust="spacingAndGlyphs" >−131.54</text>
<g transform="translate(15,771) scale(0.833)" fill="#111"><path d="M14 22H7V11H0V4h14v18z"/><path d="M28 22h-8l7.5-18h8L28 22z"/><circle cx="20" cy="8" r="4"/></g>
<rect x="1435" y="2" width="1" height="829" fill="#4a4a4a" shape-rendering="crispEdges"/>
<rect x="3" y="803" width="1496" height="1" fill="#4a4a4a" shape-rendering="crispEdges"/>
<rect x="3" y="804" width="1496" height="28" fill="#fff"/>
<rect x="1435" y="804" width="1" height="27" fill="#4a4a4a" shape-rendering="crispEdges"/>
<text x="1442.8" y="71.8" font-size="12" fill="#555" font-weight="normal" text-anchor="start" textLength="42.5" lengthAdjust="spacingAndGlyphs" >0.89000</text>
<text x="1442.8" y="144.8" font-size="12" fill="#555" font-weight="normal" text-anchor="start" textLength="42.5" lengthAdjust="spacingAndGlyphs" >0.88500</text>
<text x="1442.8" y="217.8" font-size="12" fill="#555" font-weight="normal" text-anchor="start" textLength="42.5" lengthAdjust="spacingAndGlyphs" >0.88000</text>
<text x="1442.8" y="290.8" font-size="12" fill="#555" font-weight="normal" text-anchor="start" textLength="42.5" lengthAdjust="spacingAndGlyphs" >0.87500</text>
<text x="1442.8" y="436.8" font-size="12" fill="#555" font-weight="normal" text-anchor="start" textLength="42.5" lengthAdjust="spacingAndGlyphs" >0.86500</text>
<text x="1442.8" y="510.8" font-size="12" fill="#555" font-weight="normal" text-anchor="start" textLength="42.5" lengthAdjust="spacingAndGlyphs" >0.86000</text>
<text x="1442.8" y="706" font-size="12" fill="#555" font-weight="normal" text-anchor="start" textLength="42.5" lengthAdjust="spacingAndGlyphs" >0.00400</text>
<defs><clipPath id="cpc"><rect x="1436" y="717" width="63" height="86"/></clipPath></defs>
<g clip-path="url(#cpc)">
<text x="1442.8" y="722.5" font-size="12" fill="#555" font-weight="normal" text-anchor="start" textLength="36" lengthAdjust="spacingAndGlyphs" >250.00</text>
</g>
<text x="1442.8" y="759.5" font-size="12" fill="#555" font-weight="normal" text-anchor="start" textLength="23" lengthAdjust="spacingAndGlyphs" >0.00</text>
<text x="1442.8" y="797" font-size="12" fill="#555" font-weight="normal" text-anchor="start" textLength="43" lengthAdjust="spacingAndGlyphs" >−250.00</text>
<path d="M1435 22.2 H1489 Q1491 22.2 1491 24.2 V37.0 Q1491 39.0 1489 39.0 H1435 Z" fill="#000"/>
<text x="1442.8" y="35.0" font-size="12" fill="#fff" font-weight="bold" text-anchor="start" textLength="42" lengthAdjust="spacingAndGlyphs" >0.89256</text>
<path d="M1435 255 H1489 Q1491 255 1491 257 V269.8 Q1491 271.8 1489 271.8 H1435 Z" fill="#000"/>
<text x="1442.8" y="267.8" font-size="12" fill="#fff" font-weight="bold" text-anchor="start" textLength="42" lengthAdjust="spacingAndGlyphs" >0.87659</text>
<path d="M1435 330 H1489 Q1491 330 1491 332 V344.8 Q1491 346.8 1489 346.8 H1435 Z" fill="#000"/>
<text x="1442.8" y="342.8" font-size="12" fill="#fff" font-weight="bold" text-anchor="start" textLength="42" lengthAdjust="spacingAndGlyphs" >0.87149</text>
<path d="M1435 350.1 H1489 Q1491 350.1 1491 352.1 V364.90000000000003 Q1491 366.90000000000003 1489 366.90000000000003 H1435 Z" fill="#000"/>
<text x="1442.8" y="362.90000000000003" font-size="12" fill="#fff" font-weight="bold" text-anchor="start" textLength="42" lengthAdjust="spacingAndGlyphs" >0.87013</text>
<path d="M1435 562 H1489 Q1491 562 1491 564 V576.8 Q1491 578.8 1489 578.8 H1435 Z" fill="#000"/>
<text x="1442.8" y="574.8" font-size="12" fill="#fff" font-weight="bold" text-anchor="start" textLength="42" lengthAdjust="spacingAndGlyphs" >0.85493</text>
<path d="M1435 639 H1489 Q1491 639 1491 641 V653.8 Q1491 655.8 1489 655.8 H1435 Z" fill="#000"/>
<text x="1442.8" y="651.8" font-size="12" fill="#fff" font-weight="bold" text-anchor="start" textLength="42" lengthAdjust="spacingAndGlyphs" >0.85035</text>
<path d="M1435 656 H1489 Q1491 656 1491 658 V670.8 Q1491 672.8 1489 672.8 H1435 Z" fill="#000"/>
<text x="1442.8" y="668.8" font-size="12" fill="#fff" font-weight="bold" text-anchor="start" textLength="42" lengthAdjust="spacingAndGlyphs" >0.84941</text>
<path d="M1435 579 H1493 Q1495 579 1495 581 V594 Q1495 596 1493 596 H1435 Z" fill="#e0533f"/>
<text x="1443.4" y="591.8" font-size="12" fill="#fbe3df" font-weight="normal" text-anchor="start" textLength="46" lengthAdjust="spacingAndGlyphs" stroke="#fbe3df" stroke-width="0.35">11:19:32</text>
<rect x="1436" y="3" width="63" height="32.5" fill="#fff"/>
<rect x="1439.5" y="6.5" width="55" height="24.5" rx="4" ry="4" fill="#fff" stroke="#dfe1e8" stroke-width="1"/>
<text x="1443.5" y="23" font-size="12" fill="#1a1a2a" font-weight="normal" text-anchor="start" textLength="21.5" lengthAdjust="spacingAndGlyphs" >GBP</text>
<path d="M1484.6 17.8 L1487.2 20.4 L1489.8 17.8" fill="none" stroke="#222" stroke-width="1.4"/>
<g filter="url(#sh)" opacity="0.88">
<g transform="translate(1276,742) skewX(-13)" fill="none" stroke="#ffffff" stroke-opacity="1" stroke-width="10.5" stroke-linecap="butt" stroke-linejoin="miter">
<path d="M2 4 L10 11"/>
<path d="M-1 19 L7 26"/>
<path d="M-2 52 L8 34"/>
<path d="M24 0 L17 13"/>
<path d="M19 9 H54"/>
<path d="M22 20 H51 L48 50 H40"/>
<path d="M24 20 L21 48 H44"/>
<path d="M12 34 H56"/>
<path d="M35 23 L34 30"/>
<path d="M34 38 L33 45"/>
</g>
<g transform="translate(1333,742) skewX(-13)" fill="none" stroke="#ffffff" stroke-opacity="1" stroke-width="10.5" stroke-linecap="butt" stroke-linejoin="miter">
<path d="M6 4 H42 L40 22"/>
<path d="M14 4 L12 24 H52 L49 49 H38"/>
<path d="M0 37 H46"/>
</g>
<g transform="translate(1390,742) skewX(-13)" fill="none" stroke="#ffffff" stroke-opacity="1" stroke-width="10.5" stroke-linecap="butt" stroke-linejoin="miter">
<path d="M3 3 H22 V36 H3 Z"/>
<path d="M12 8 V30"/>
<path d="M9 36 L1 52"/>
<path d="M17 38 L25 52"/>
<path d="M28 14 H57"/>
<path d="M47 0 V46 L40 51"/>
<path d="M45 16 L28 40"/>
</g>
<g transform="translate(1449,742) skewX(-13)" fill="none" stroke="#ffffff" stroke-opacity="1" stroke-width="10.5" stroke-linecap="butt" stroke-linejoin="miter">
<path d="M13 0 L3 15 H15 L1 33 L18 31"/>
<path d="M1 49 L18 42"/>
<path d="M25 4 H50 L28 27"/>
<path d="M31 10 L55 29"/>
<path d="M29 35 H53"/>
<path d="M41 35 V50"/>
<path d="M23 50 H57"/>
</g>
</g>
<g filter="url(#sh2)" font-weight="bold" font-style="italic" font-size="32" fill="#8cc7fb" text-anchor="middle">
<text transform="translate(1277.2,829) scale(1.14,1)" x="0" y="0">z</text>
<text transform="translate(1304,829) scale(1.14,1)" x="0" y="0">z</text>
<text transform="translate(1328,829) scale(1.14,1)" x="0" y="0">r</text>
<text transform="translate(1353,829) scale(1.14,1)" x="0" y="0">t</text>
<text transform="translate(1375.5,829) scale(1.14,1)" x="0" y="0">0</text>
<polygon points="1417.5,806.5 1410.8,806.5 1402.8,812 1401.6,817 1408,814 1404.6,829 1411.8,829"/>
<text transform="translate(1427.5,829) scale(1.14,1)" x="0" y="0">.</text>
<text transform="translate(1452.2,829) scale(1.14,1)" x="0" y="0">c</text>
<text transform="translate(1482.4,829) scale(1.14,1)" x="0" y="0">n</text>
</g>
<text x="69.5" y="820.8" font-size="12" fill="#555" font-weight="normal" text-anchor="middle" >May</text>
<text x="224.5" y="820.8" font-size="12" fill="#555" font-weight="normal" text-anchor="middle" >Jun</text>
<text x="373.5" y="820.8" font-size="12" fill="#555" font-weight="normal" text-anchor="middle" >Jul</text>
<text x="514.5" y="820.8" font-size="12" fill="#555" font-weight="normal" text-anchor="middle" >Aug</text>
<text x="670.5" y="820.8" font-size="12" fill="#555" font-weight="normal" text-anchor="middle" >Sep</text>
<text x="811.5" y="820.8" font-size="12" fill="#555" font-weight="normal" text-anchor="middle" >Oct</text>
<text x="960.5" y="820.8" font-size="12" fill="#555" font-weight="normal" text-anchor="middle" >Nov</text>
<text x="1108.5" y="820.8" font-size="12" fill="#555" font-weight="normal" text-anchor="middle" >Dec</text>
<text x="1250.5" y="820.8" font-size="12" fill="#333" font-weight="normal" text-anchor="middle" >2024</text>
<text x="1405.5" y="820.8" font-size="12" fill="#555" font-weight="normal" text-anchor="middle" >Feb</text>
<polygon points="1475.0,817.8 1471.3,824.2 1463.9,824.2 1460.2,817.8 1463.9,811.4 1471.3,811.4" fill="none" stroke="#2a2a2a" stroke-width="1.4" stroke-linejoin="round"/>
<circle cx="1467.6" cy="817.8" r="2.3" fill="none" stroke="#2a2a2a" stroke-width="1.4"/>
<rect x="1499" y="0" width="3" height="834" fill="#e0e3eb"/>
<rect x="0" y="832" width="1502" height="2" fill="#e0e3eb"/>
</svg></body></html>
